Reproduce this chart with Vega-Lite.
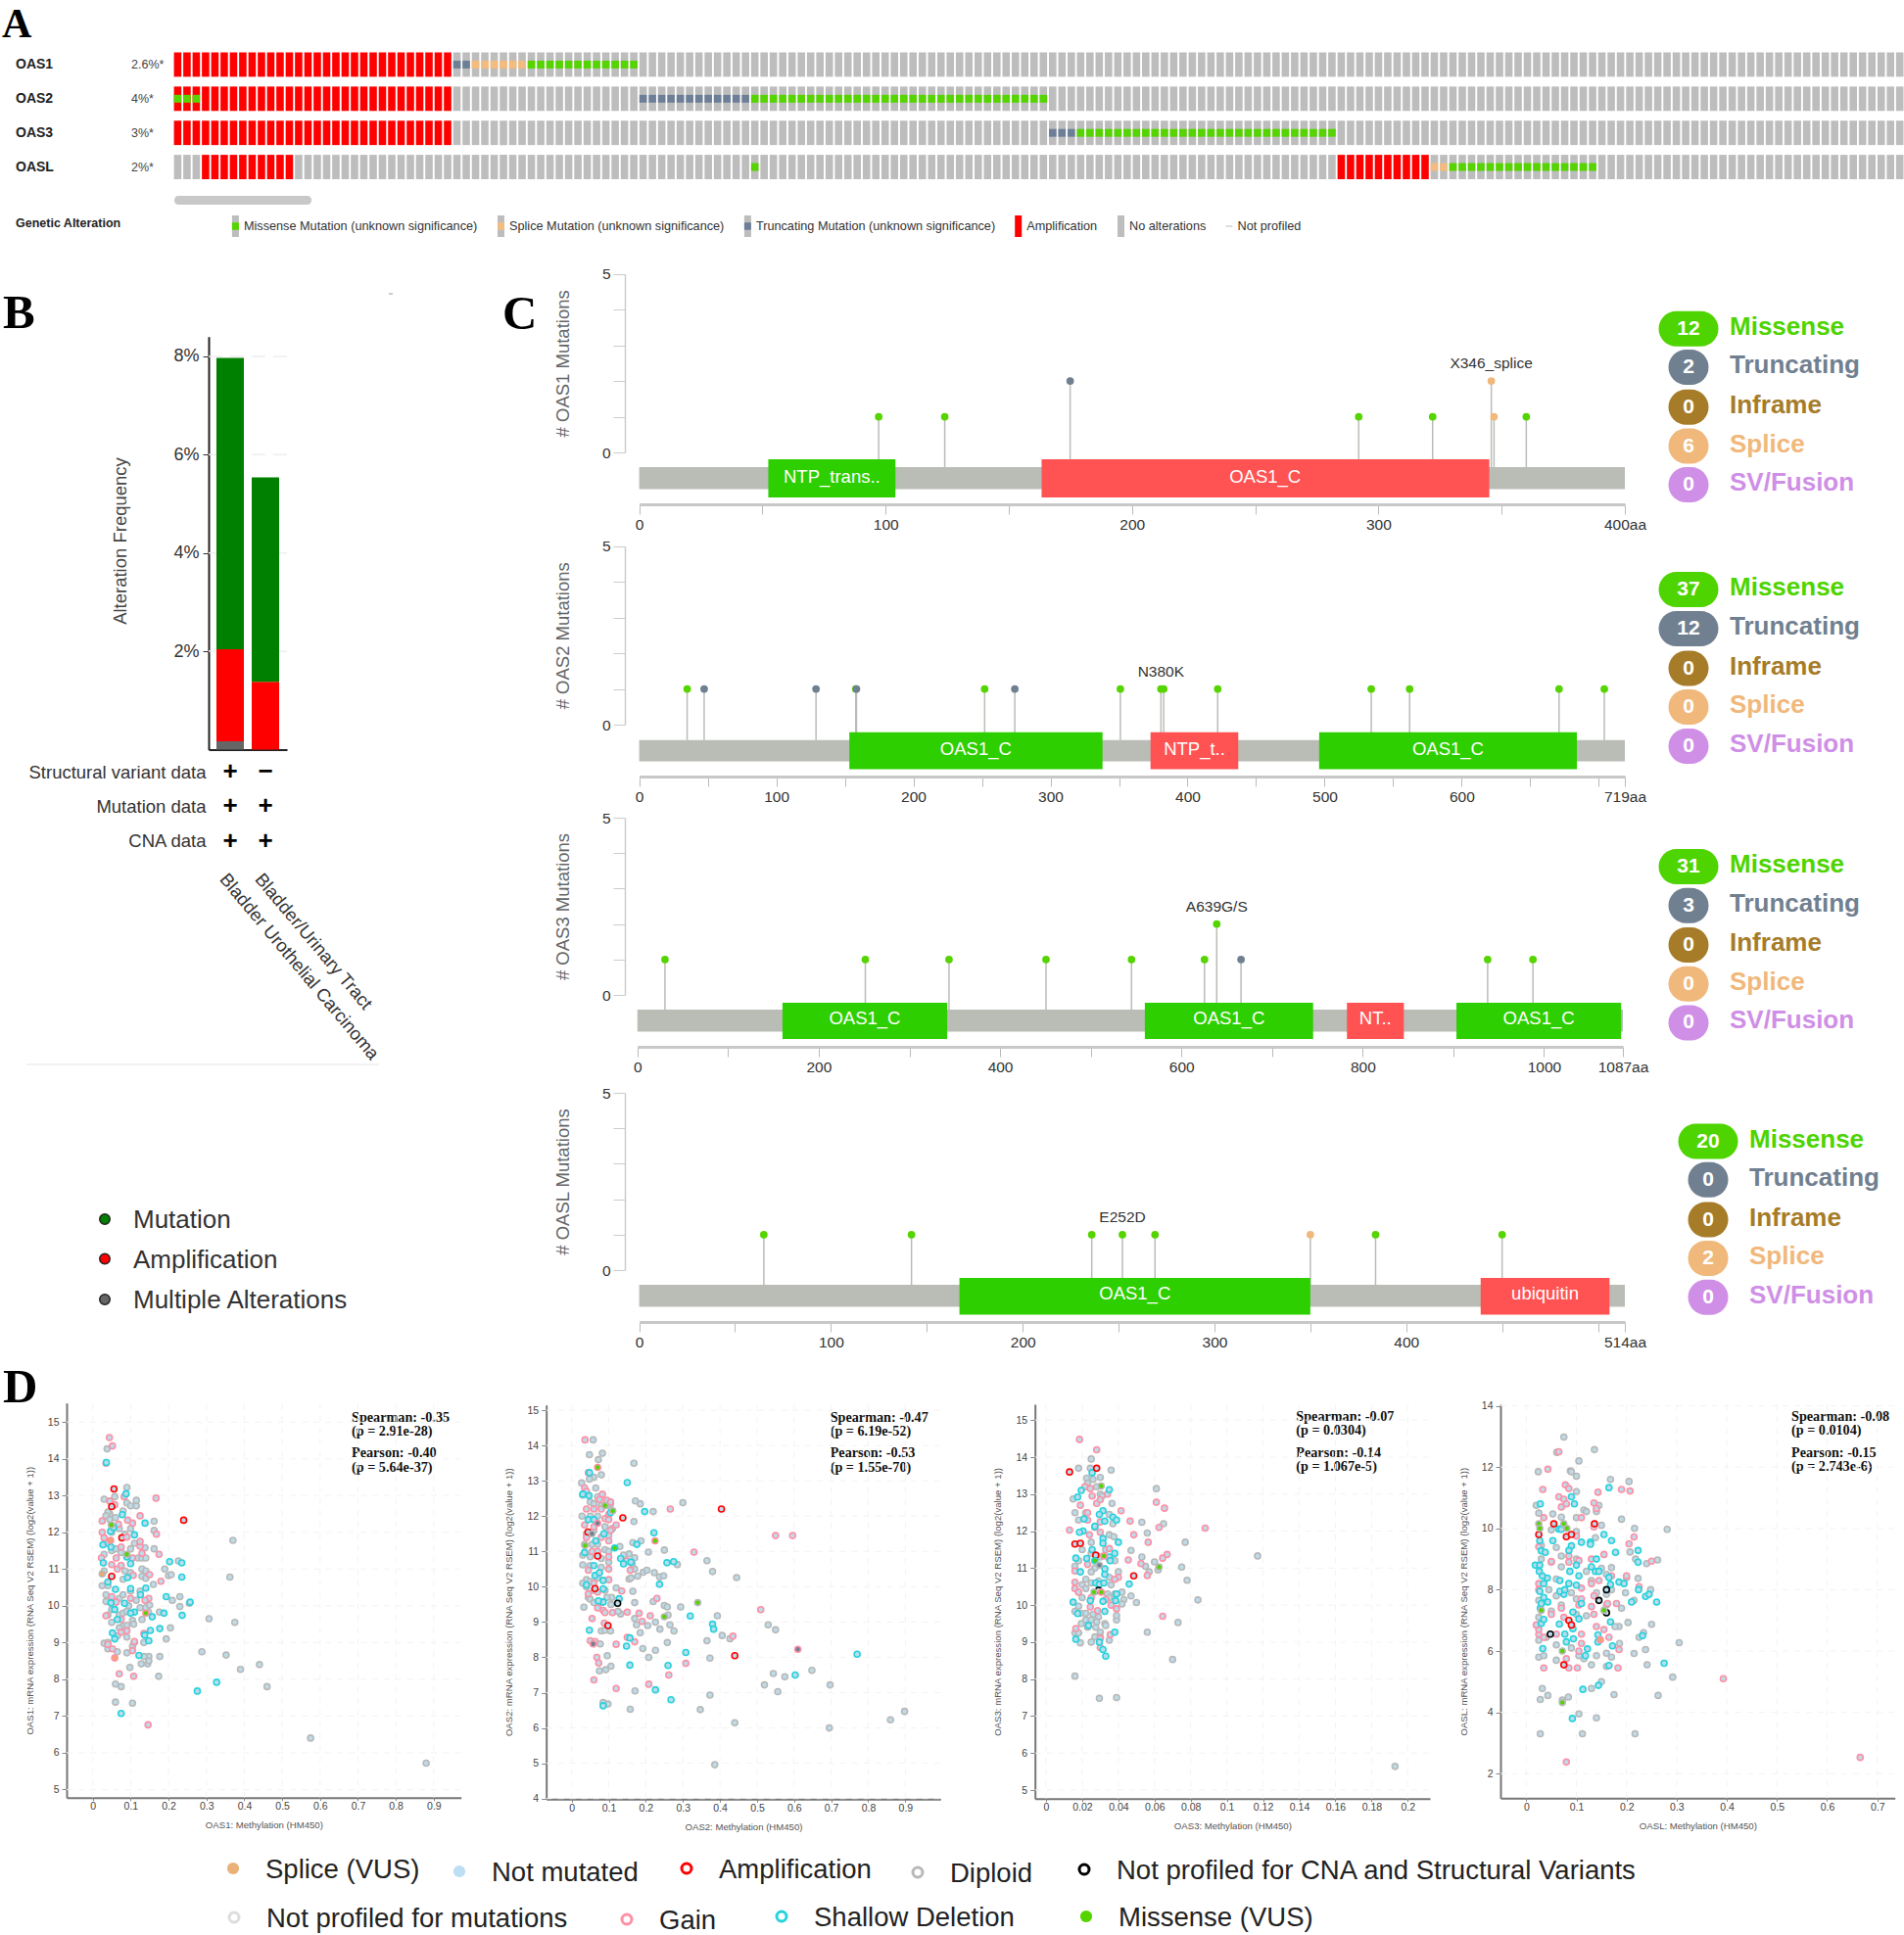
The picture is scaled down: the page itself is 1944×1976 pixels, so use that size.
{"$schema":"https://vega.github.io/schema/vega-lite/v6.json","width":1944,"height":1976,"padding":0,"autosize":{"type":"none"},"background":"white",
"config":{"view":{"stroke":null},"font":"Liberation Sans","axis":{"grid":false,"labelFlush":false,"labelOverlap":false,"titleFontWeight":"normal","labelLimit":500,"titleLimit":800},
"style":{"cy":{"tickSize":12,"domainColor":"#ccc","tickColor":"#ccc","domainWidth":1.5,"labelFontSize":15.5,"labelColor":"#333","labelPadding":3,"titleFontSize":18.5,"titleColor":"#666"},
"cx":{"tickSize":10,"domainColor":"#c8c8c8","tickColor":"#bbb","domainWidth":3,"labelFontSize":15.5,"labelColor":"#333","labelPadding":3},
"sx":{"tickSize":3,"domainColor":"#777","tickColor":"#888","domainWidth":2,"labelFontSize":10.5,"labelColor":"#444","labelPadding":1,"titleFontSize":9.6,"titleColor":"#555","titleY":23},
"sy":{"tickSize":5,"domainColor":"#777","tickColor":"#888","domainWidth":2,"labelFontSize":10.5,"labelColor":"#444","labelPadding":3,"titleFontSize":9.6,"titleColor":"#555"}}},
"resolve":{"scale":{"x":"independent","y":"independent","color":"independent"},"axis":{"x":"independent","y":"independent"}},
"datasets":{
"onco":[{"c":0,"OAS1":"a","OAS2":"am","OAS3":"a"},{"c":1,"OAS1":"a","OAS2":"am","OAS3":"a"},{"c":2,"OAS1":"a","OAS2":"am","OAS3":"a"},{"c":3,"OAS1":"a","OAS2":"a","OAS3":"a","OASL":"a"},{"c":4,"OAS1":"a","OAS2":"a","OAS3":"a","OASL":"a"},{"c":5,"OAS1":"a","OAS2":"a","OAS3":"a","OASL":"a"},{"c":6,"OAS1":"a","OAS2":"a","OAS3":"a","OASL":"a"},{"c":7,"OAS1":"a","OAS2":"a","OAS3":"a","OASL":"a"},{"c":8,"OAS1":"a","OAS2":"a","OAS3":"a","OASL":"a"},{"c":9,"OAS1":"a","OAS2":"a","OAS3":"a","OASL":"a"},{"c":10,"OAS1":"a","OAS2":"a","OAS3":"a","OASL":"a"},{"c":11,"OAS1":"a","OAS2":"a","OAS3":"a","OASL":"a"},{"c":12,"OAS1":"a","OAS2":"a","OAS3":"a","OASL":"a"},{"c":13,"OAS1":"a","OAS2":"a","OAS3":"a"},{"c":14,"OAS1":"a","OAS2":"a","OAS3":"a"},{"c":15,"OAS1":"a","OAS2":"a","OAS3":"a"},{"c":16,"OAS1":"a","OAS2":"a","OAS3":"a"},{"c":17,"OAS1":"a","OAS2":"a","OAS3":"a"},{"c":18,"OAS1":"a","OAS2":"a","OAS3":"a"},{"c":19,"OAS1":"a","OAS2":"a","OAS3":"a"},{"c":20,"OAS1":"a","OAS2":"a","OAS3":"a"},{"c":21,"OAS1":"a","OAS2":"a","OAS3":"a"},{"c":22,"OAS1":"a","OAS2":"a","OAS3":"a"},{"c":23,"OAS1":"a","OAS2":"a","OAS3":"a"},{"c":24,"OAS1":"a","OAS2":"a","OAS3":"a"},{"c":25,"OAS1":"a","OAS2":"a","OAS3":"a"},{"c":26,"OAS1":"a","OAS2":"a","OAS3":"a"},{"c":27,"OAS1":"a","OAS2":"a","OAS3":"a"},{"c":28,"OAS1":"a","OAS2":"a","OAS3":"a"},{"c":29,"OAS1":"a","OAS2":"a","OAS3":"a"},{"c":30,"OAS1":"t"},{"c":31,"OAS1":"t"},{"c":32,"OAS1":"s"},{"c":33,"OAS1":"s"},{"c":34,"OAS1":"s"},{"c":35,"OAS1":"s"},{"c":36,"OAS1":"s"},{"c":37,"OAS1":"s"},{"c":38,"OAS1":"m"},{"c":39,"OAS1":"m"},{"c":40,"OAS1":"m"},{"c":41,"OAS1":"m"},{"c":42,"OAS1":"m"},{"c":43,"OAS1":"m"},{"c":44,"OAS1":"m"},{"c":45,"OAS1":"m"},{"c":46,"OAS1":"m"},{"c":47,"OAS1":"m"},{"c":48,"OAS1":"m"},{"c":49,"OAS1":"m"},{"c":50,"OAS2":"t"},{"c":51,"OAS2":"t"},{"c":52,"OAS2":"t"},{"c":53,"OAS2":"t"},{"c":54,"OAS2":"t"},{"c":55,"OAS2":"t"},{"c":56,"OAS2":"t"},{"c":57,"OAS2":"t"},{"c":58,"OAS2":"t"},{"c":59,"OAS2":"t"},{"c":60,"OAS2":"t"},{"c":61,"OAS2":"t"},{"c":62,"OAS2":"m","OASL":"m"},{"c":63,"OAS2":"m"},{"c":64,"OAS2":"m"},{"c":65,"OAS2":"m"},{"c":66,"OAS2":"m"},{"c":67,"OAS2":"m"},{"c":68,"OAS2":"m"},{"c":69,"OAS2":"m"},{"c":70,"OAS2":"m"},{"c":71,"OAS2":"m"},{"c":72,"OAS2":"m"},{"c":73,"OAS2":"m"},{"c":74,"OAS2":"m"},{"c":75,"OAS2":"m"},{"c":76,"OAS2":"m"},{"c":77,"OAS2":"m"},{"c":78,"OAS2":"m"},{"c":79,"OAS2":"m"},{"c":80,"OAS2":"m"},{"c":81,"OAS2":"m"},{"c":82,"OAS2":"m"},{"c":83,"OAS2":"m"},{"c":84,"OAS2":"m"},{"c":85,"OAS2":"m"},{"c":86,"OAS2":"m"},{"c":87,"OAS2":"m"},{"c":88,"OAS2":"m"},{"c":89,"OAS2":"m"},{"c":90,"OAS2":"m"},{"c":91,"OAS2":"m"},{"c":92,"OAS2":"m"},{"c":93,"OAS2":"m"},{"c":94,"OAS3":"t"},{"c":95,"OAS3":"t"},{"c":96,"OAS3":"t"},{"c":97,"OAS3":"m"},{"c":98,"OAS3":"m"},{"c":99,"OAS3":"m"},{"c":100,"OAS3":"m"},{"c":101,"OAS3":"m"},{"c":102,"OAS3":"m"},{"c":103,"OAS3":"m"},{"c":104,"OAS3":"m"},{"c":105,"OAS3":"m"},{"c":106,"OAS3":"m"},{"c":107,"OAS3":"m"},{"c":108,"OAS3":"m"},{"c":109,"OAS3":"m"},{"c":110,"OAS3":"m"},{"c":111,"OAS3":"m"},{"c":112,"OAS3":"m"},{"c":113,"OAS3":"m"},{"c":114,"OAS3":"m"},{"c":115,"OAS3":"m"},{"c":116,"OAS3":"m"},{"c":117,"OAS3":"m"},{"c":118,"OAS3":"m"},{"c":119,"OAS3":"m"},{"c":120,"OAS3":"m"},{"c":121,"OAS3":"m"},{"c":122,"OAS3":"m"},{"c":123,"OAS3":"m"},{"c":124,"OAS3":"m"},{"c":125,"OASL":"a"},{"c":126,"OASL":"a"},{"c":127,"OASL":"a"},{"c":128,"OASL":"a"},{"c":129,"OASL":"a"},{"c":130,"OASL":"a"},{"c":131,"OASL":"a"},{"c":132,"OASL":"a"},{"c":133,"OASL":"a"},{"c":134,"OASL":"a"},{"c":135,"OASL":"s"},{"c":136,"OASL":"s"},{"c":137,"OASL":"m"},{"c":138,"OASL":"m"},{"c":139,"OASL":"m"},{"c":140,"OASL":"m"},{"c":141,"OASL":"m"},{"c":142,"OASL":"m"},{"c":143,"OASL":"m"},{"c":144,"OASL":"m"},{"c":145,"OASL":"m"},{"c":146,"OASL":"m"},{"c":147,"OASL":"m"},{"c":148,"OASL":"m"},{"c":149,"OASL":"m"},{"c":150,"OASL":"m"},{"c":151,"OASL":"m"},{"c":152,"OASL":"m"},{"c":153},{"c":154},{"c":155},{"c":156},{"c":157},{"c":158},{"c":159},{"c":160},{"c":161},{"c":162},{"c":163},{"c":164},{"c":165},{"c":166},{"c":167},{"c":168},{"c":169},{"c":170},{"c":171},{"c":172},{"c":173},{"c":174},{"c":175},{"c":176},{"c":177},{"c":178},{"c":179},{"c":180},{"c":181},{"c":182},{"c":183},{"c":184},{"c":185}],
"m1":[{"aa":97.2,"n":1,"k":"m"},{"aa":124,"n":1,"k":"m"},{"aa":174.9,"n":2,"k":"t"},{"aa":292,"n":1,"k":"m"},{"aa":322,"n":1,"k":"m"},{"aa":345.8,"n":2,"k":"s","lab":"X346_splice"},{"aa":346.9,"n":1,"k":"s"},{"aa":360,"n":1,"k":"m"}],
"m2":[{"aa":35,"n":1,"k":"m"},{"aa":47.4,"n":1,"k":"t"},{"aa":129,"n":1,"k":"t"},{"aa":158,"n":1,"k":"m"},{"aa":158.5,"n":1,"k":"t"},{"aa":252,"n":1,"k":"m"},{"aa":274,"n":1,"k":"t"},{"aa":351,"n":1,"k":"m"},{"aa":380.6,"n":1,"k":"m","lab":"N380K"},{"aa":382.6,"n":1,"k":"m"},{"aa":422,"n":1,"k":"m"},{"aa":534,"n":1,"k":"m"},{"aa":562,"n":1,"k":"m"},{"aa":671,"n":1,"k":"m"},{"aa":704,"n":1,"k":"m"}],
"m3":[{"aa":30.4,"n":1,"k":"m"},{"aa":251.4,"n":1,"k":"m"},{"aa":343.7,"n":1,"k":"m"},{"aa":450.7,"n":1,"k":"m"},{"aa":545,"n":1,"k":"m"},{"aa":625.5,"n":1,"k":"m"},{"aa":639,"n":2,"k":"m","lab":"A639G/S"},{"aa":665.8,"n":1,"k":"t"},{"aa":937.8,"n":1,"k":"m"},{"aa":987.8,"n":1,"k":"m"}],
"m4":[{"aa":65,"n":1,"k":"m"},{"aa":142,"n":1,"k":"m"},{"aa":236,"n":1,"k":"m"},{"aa":252,"n":1,"k":"m","lab":"E252D"},{"aa":269,"n":1,"k":"m"},{"aa":350,"n":1,"k":"s"},{"aa":384,"n":1,"k":"m"},{"aa":450,"n":1,"k":"m"}],
"s1":[{"x":0.88,"y":5.72,"c":"g"},{"x":0.575,"y":6.4,"c":"g"},{"x":0.46,"y":7.8,"c":"g"},{"x":0.44,"y":8.4,"c":"g"},{"x":0.39,"y":8.27,"c":"g"},{"x":0.352,"y":8.66,"c":"g"},{"x":0.288,"y":8.75,"c":"g"},{"x":0.37,"y":11.78,"c":"g"},{"x":0.362,"y":10.78,"c":"g"},{"x":0.375,"y":9.55,"c":"g"},{"x":0.307,"y":9.65,"c":"g"},{"x":0.255,"y":10.07,"c":"g"},{"x":0.23,"y":9.98,"c":"g"},{"x":0.23,"y":10.25,"c":"g"},{"x":0.226,"y":11.22,"c":"g"},{"x":0.205,"y":9.4,"c":"g"},{"x":0.194,"y":9.1,"c":"g"},{"x":0.177,"y":8.62,"c":"g"},{"x":0.174,"y":8.08,"c":"g"},{"x":0.21,"y":10.15,"c":"g"},{"x":0.2,"y":10.82,"c":"g"},{"x":0.19,"y":11.0,"c":"g"},{"x":0.207,"y":10.85,"c":"g"},{"x":0.162,"y":11.55,"c":"g"},{"x":0.162,"y":12.3,"c":"g"},{"x":0.162,"y":12.05,"c":"g"},{"x":0.16,"y":10.58,"c":"g"},{"x":0.09,"y":13.22,"c":"g"},{"x":0.038,"y":14.27,"c":"g"},{"x":0.105,"y":7.35,"c":"g"},{"x":0.06,"y":7.38,"c":"g"},{"x":0.06,"y":7.87,"c":"g"},{"x":0.075,"y":7.8,"c":"g"},{"x":0.098,"y":8.32,"c":"g"},{"x":0.128,"y":8.42,"c":"g"},{"x":0.145,"y":8.42,"c":"g"},{"x":0.148,"y":8.62,"c":"g"},{"x":0.135,"y":8.62,"c":"g"},{"x":0.148,"y":8.5,"c":"g"},{"x":0.09,"y":8.72,"c":"g"},{"x":0.065,"y":8.75,"c":"g"},{"x":0.04,"y":8.83,"c":"g"},{"x":0.03,"y":8.98,"c":"g"},{"x":0.04,"y":9.0,"c":"g"},{"x":0.065,"y":9.18,"c":"g"},{"x":0.09,"y":9.15,"c":"g"},{"x":0.105,"y":8.9,"c":"g"},{"x":0.11,"y":9.0,"c":"g"},{"x":0.135,"y":9.0,"c":"g"},{"x":0.105,"y":9.6,"c":"g"},{"x":0.108,"y":9.5,"c":"g"},{"x":0.13,"y":9.63,"c":"g"},{"x":0.176,"y":9.83,"c":"g"},{"x":0.147,"y":9.83,"c":"g"},{"x":0.03,"y":12.9,"c":"g"},{"x":0.058,"y":12.97,"c":"g"},{"x":0.045,"y":12.5,"c":"g"},{"x":0.04,"y":12.55,"c":"g"},{"x":0.08,"y":12.58,"c":"g"},{"x":0.09,"y":12.8,"c":"g"},{"x":0.1,"y":12.72,"c":"g"},{"x":0.115,"y":12.72,"c":"g"},{"x":0.115,"y":12.87,"c":"g"},{"x":0.035,"y":12.45,"c":"g"},{"x":0.045,"y":12.35,"c":"g"},{"x":0.06,"y":12.4,"c":"g"},{"x":0.05,"y":12.0,"c":"g"},{"x":0.07,"y":12.1,"c":"g"},{"x":0.1,"y":12.1,"c":"g"},{"x":0.085,"y":11.95,"c":"g"},{"x":0.04,"y":11.7,"c":"g"},{"x":0.05,"y":11.5,"c":"g"},{"x":0.03,"y":11.4,"c":"g"},{"x":0.06,"y":11.55,"c":"g"},{"x":0.075,"y":11.45,"c":"g"},{"x":0.1,"y":11.55,"c":"g"},{"x":0.11,"y":11.7,"c":"g"},{"x":0.138,"y":11.58,"c":"g"},{"x":0.12,"y":11.3,"c":"g"},{"x":0.13,"y":11.3,"c":"g"},{"x":0.14,"y":11.3,"c":"g"},{"x":0.13,"y":11.0,"c":"g"},{"x":0.14,"y":10.95,"c":"g"},{"x":0.13,"y":10.8,"c":"g"},{"x":0.14,"y":10.75,"c":"g"},{"x":0.085,"y":10.95,"c":"g"},{"x":0.1,"y":10.9,"c":"g"},{"x":0.03,"y":10.95,"c":"g"},{"x":0.025,"y":10.55,"c":"g"},{"x":0.04,"y":10.55,"c":"g"},{"x":0.08,"y":10.72,"c":"g"},{"x":0.1,"y":10.4,"c":"g"},{"x":0.125,"y":10.4,"c":"g"},{"x":0.035,"y":10.3,"c":"g"},{"x":0.035,"y":10.12,"c":"g"},{"x":0.07,"y":10.2,"c":"g"},{"x":0.08,"y":10.3,"c":"g"},{"x":0.095,"y":10.0,"c":"g"},{"x":0.115,"y":10.15,"c":"g"},{"x":0.125,"y":9.95,"c":"g"},{"x":0.14,"y":9.95,"c":"g"},{"x":0.15,"y":10.02,"c":"g"},{"x":0.05,"y":9.9,"c":"g"},{"x":0.04,"y":9.75,"c":"g"},{"x":0.05,"y":9.55,"c":"g"},{"x":0.07,"y":9.75,"c":"g"},{"x":0.08,"y":9.8,"c":"g"},{"x":0.09,"y":9.85,"c":"g"},{"x":0.08,"y":9.45,"c":"g"},{"x":0.09,"y":9.47,"c":"g"},{"x":0.07,"y":9.4,"c":"g"},{"x":0.146,"y":6.76,"c":"p"},{"x":0.108,"y":8.08,"c":"p"},{"x":0.07,"y":8.15,"c":"p"},{"x":0.105,"y":8.78,"c":"p"},{"x":0.04,"y":8.95,"c":"p"},{"x":0.052,"y":8.83,"c":"p"},{"x":0.11,"y":9.03,"c":"p"},{"x":0.09,"y":9.32,"c":"p"},{"x":0.075,"y":9.28,"c":"p"},{"x":0.135,"y":9.25,"c":"p"},{"x":0.075,"y":9.63,"c":"p"},{"x":0.035,"y":9.73,"c":"p"},{"x":0.148,"y":10.2,"c":"p"},{"x":0.1,"y":10.2,"c":"p"},{"x":0.05,"y":10.25,"c":"p"},{"x":0.138,"y":10.15,"c":"p"},{"x":0.062,"y":10.1,"c":"p"},{"x":0.18,"y":10.67,"c":"p"},{"x":0.15,"y":10.85,"c":"p"},{"x":0.065,"y":11.0,"c":"p"},{"x":0.107,"y":10.83,"c":"p"},{"x":0.075,"y":11.1,"c":"p"},{"x":0.05,"y":11.12,"c":"p"},{"x":0.023,"y":11.3,"c":"p"},{"x":0.062,"y":11.3,"c":"p"},{"x":0.105,"y":11.3,"c":"p"},{"x":0.175,"y":11.4,"c":"p"},{"x":0.13,"y":11.43,"c":"p"},{"x":0.125,"y":11.62,"c":"p"},{"x":0.125,"y":11.75,"c":"p"},{"x":0.075,"y":11.6,"c":"p"},{"x":0.168,"y":11.95,"c":"p"},{"x":0.03,"y":11.85,"c":"p"},{"x":0.025,"y":12.0,"c":"p"},{"x":0.105,"y":12.25,"c":"p"},{"x":0.092,"y":12.33,"c":"p"},{"x":0.068,"y":12.22,"c":"p"},{"x":0.025,"y":12.31,"c":"p"},{"x":0.125,"y":12.45,"c":"p"},{"x":0.167,"y":12.93,"c":"p"},{"x":0.083,"y":12.97,"c":"p"},{"x":0.045,"y":12.85,"c":"p"},{"x":0.058,"y":12.75,"c":"p"},{"x":0.044,"y":14.58,"c":"p"},{"x":0.052,"y":14.35,"c":"p"},{"x":0.035,"y":13.88,"c":"p"},{"x":0.075,"y":7.07,"c":"s"},{"x":0.276,"y":7.68,"c":"s"},{"x":0.327,"y":7.92,"c":"s"},{"x":0.122,"y":8.65,"c":"s"},{"x":0.148,"y":9.05,"c":"s"},{"x":0.137,"y":9.2,"c":"s"},{"x":0.152,"y":9.33,"c":"s"},{"x":0.177,"y":9.38,"c":"s"},{"x":0.052,"y":9.26,"c":"s"},{"x":0.058,"y":9.1,"c":"s"},{"x":0.157,"y":9.7,"c":"s"},{"x":0.236,"y":9.74,"c":"s"},{"x":0.188,"y":9.8,"c":"s"},{"x":0.11,"y":9.83,"c":"s"},{"x":0.1,"y":9.8,"c":"s"},{"x":0.065,"y":9.63,"c":"s"},{"x":0.058,"y":9.9,"c":"s"},{"x":0.048,"y":10.08,"c":"s"},{"x":0.084,"y":10.07,"c":"s"},{"x":0.257,"y":10.1,"c":"s"},{"x":0.194,"y":10.25,"c":"s"},{"x":0.126,"y":10.3,"c":"s"},{"x":0.14,"y":10.48,"c":"s"},{"x":0.06,"y":10.45,"c":"s"},{"x":0.1,"y":10.47,"c":"s"},{"x":0.235,"y":10.78,"c":"s"},{"x":0.235,"y":11.17,"c":"s"},{"x":0.203,"y":11.2,"c":"s"},{"x":0.1,"y":11.15,"c":"s"},{"x":0.028,"y":11.17,"c":"s"},{"x":0.09,"y":11.33,"c":"s"},{"x":0.04,"y":10.65,"c":"s"},{"x":0.092,"y":10.77,"c":"s"},{"x":0.138,"y":12.25,"c":"s"},{"x":0.078,"y":12.48,"c":"s"},{"x":0.088,"y":13.05,"c":"s"},{"x":0.036,"y":13.9,"c":"s"},{"x":0.047,"y":12.03,"c":"s"},{"x":0.055,"y":12.13,"c":"s"},{"x":0.11,"y":11.93,"c":"s"},{"x":0.048,"y":11.6,"c":"s"},{"x":0.027,"y":11.66,"c":"s"},{"x":0.056,"y":13.18,"c":"r"},{"x":0.05,"y":12.7,"c":"r"},{"x":0.24,"y":12.33,"c":"r"},{"x":0.077,"y":11.85,"c":"r"},{"x":0.09,"y":11.87,"c":"p"},{"x":0.05,"y":10.8,"c":"r"},{"x":0.049,"y":12.2,"c":"g","m":"m"},{"x":0.09,"y":11.4,"c":"g","m":"m"},{"x":0.14,"y":9.8,"c":"p","m":"m"},{"x":0.047,"y":11.78,"c":"p","m":"s"},{"x":0.025,"y":10.87,"c":"g","m":"s"},{"x":0.058,"y":8.58,"c":"p","m":"s"}],
"s2":[{"x":0.898,"y":6.47,"c":"g"},{"x":0.86,"y":6.23,"c":"g"},{"x":0.695,"y":6.0,"c":"g"},{"x":0.697,"y":7.22,"c":"g"},{"x":0.648,"y":7.63,"c":"g"},{"x":0.575,"y":7.45,"c":"g"},{"x":0.556,"y":7.03,"c":"g"},{"x":0.544,"y":7.54,"c":"g"},{"x":0.52,"y":7.22,"c":"g"},{"x":0.53,"y":8.92,"c":"g"},{"x":0.55,"y":8.78,"c":"g"},{"x":0.427,"y":8.53,"c":"g"},{"x":0.406,"y":8.62,"c":"g"},{"x":0.393,"y":9.18,"c":"g"},{"x":0.44,"y":6.15,"c":"g"},{"x":0.386,"y":4.96,"c":"g"},{"x":0.373,"y":6.93,"c":"g"},{"x":0.347,"y":6.52,"c":"g"},{"x":0.158,"y":6.53,"c":"g"},{"x":0.171,"y":7.05,"c":"g"},{"x":0.098,"y":6.68,"c":"g"},{"x":0.085,"y":6.72,"c":"g"},{"x":0.106,"y":7.75,"c":"g"},{"x":0.075,"y":7.62,"c":"g"},{"x":0.092,"y":7.65,"c":"g"},{"x":0.096,"y":8.05,"c":"g"},{"x":0.208,"y":8.0,"c":"g"},{"x":0.192,"y":8.25,"c":"g"},{"x":0.226,"y":8.2,"c":"g"},{"x":0.258,"y":8.42,"c":"g"},{"x":0.373,"y":7.98,"c":"g"},{"x":0.365,"y":8.47,"c":"g"},{"x":0.276,"y":8.75,"c":"g"},{"x":0.238,"y":8.8,"c":"g"},{"x":0.185,"y":8.7,"c":"g"},{"x":0.175,"y":8.92,"c":"g"},{"x":0.205,"y":8.9,"c":"g"},{"x":0.226,"y":9.0,"c":"g"},{"x":0.265,"y":8.92,"c":"g"},{"x":0.17,"y":9.1,"c":"g"},{"x":0.26,"y":9.2,"c":"g"},{"x":0.294,"y":9.43,"c":"g"},{"x":0.25,"y":9.47,"c":"g"},{"x":0.258,"y":9.43,"c":"g"},{"x":0.22,"y":9.58,"c":"g"},{"x":0.17,"y":9.55,"c":"g"},{"x":0.165,"y":9.87,"c":"g"},{"x":0.12,"y":9.97,"c":"g"},{"x":0.108,"y":9.7,"c":"g"},{"x":0.095,"y":9.7,"c":"g"},{"x":0.132,"y":9.23,"c":"g"},{"x":0.125,"y":9.3,"c":"g"},{"x":0.106,"y":9.5,"c":"g"},{"x":0.033,"y":9.42,"c":"g"},{"x":0.08,"y":8.75,"c":"g"},{"x":0.09,"y":8.77,"c":"g"},{"x":0.105,"y":8.75,"c":"g"},{"x":0.077,"y":8.38,"c":"g"},{"x":0.445,"y":10.26,"c":"g"},{"x":0.38,"y":10.43,"c":"g"},{"x":0.365,"y":10.74,"c":"g"},{"x":0.285,"y":10.63,"c":"g"},{"x":0.25,"y":11.04,"c":"g"},{"x":0.207,"y":10.98,"c":"g"},{"x":0.17,"y":10.82,"c":"g"},{"x":0.163,"y":10.65,"c":"g"},{"x":0.17,"y":10.5,"c":"g"},{"x":0.155,"y":10.22,"c":"g"},{"x":0.16,"y":10.25,"c":"g"},{"x":0.178,"y":10.3,"c":"g"},{"x":0.193,"y":10.41,"c":"g"},{"x":0.203,"y":10.47,"c":"g"},{"x":0.223,"y":10.4,"c":"g"},{"x":0.237,"y":10.28,"c":"g"},{"x":0.248,"y":10.31,"c":"g"},{"x":0.13,"y":11.14,"c":"g"},{"x":0.155,"y":10.93,"c":"g"},{"x":0.165,"y":11.25,"c":"g"},{"x":0.187,"y":11.3,"c":"g"},{"x":0.14,"y":10.9,"c":"g"},{"x":0.172,"y":12.43,"c":"g"},{"x":0.185,"y":12.35,"c":"g"},{"x":0.22,"y":12.13,"c":"g"},{"x":0.3,"y":12.38,"c":"g"},{"x":0.168,"y":11.85,"c":"g"},{"x":0.168,"y":13.5,"c":"g"},{"x":0.083,"y":13.78,"c":"g"},{"x":0.072,"y":13.6,"c":"g"},{"x":0.048,"y":13.74,"c":"g"},{"x":0.058,"y":14.16,"c":"g"},{"x":0.08,"y":13.17,"c":"g"},{"x":0.06,"y":13.1,"c":"g"},{"x":0.048,"y":13.05,"c":"g"},{"x":0.027,"y":12.94,"c":"g"},{"x":0.065,"y":12.8,"c":"g"},{"x":0.03,"y":12.6,"c":"g"},{"x":0.07,"y":12.55,"c":"g"},{"x":0.05,"y":12.4,"c":"g"},{"x":0.06,"y":12.35,"c":"g"},{"x":0.08,"y":12.3,"c":"g"},{"x":0.1,"y":12.3,"c":"g"},{"x":0.105,"y":12.35,"c":"g"},{"x":0.028,"y":12.0,"c":"g"},{"x":0.05,"y":12.0,"c":"g"},{"x":0.07,"y":12.0,"c":"g"},{"x":0.04,"y":11.5,"c":"g"},{"x":0.06,"y":11.6,"c":"g"},{"x":0.09,"y":11.7,"c":"g"},{"x":0.11,"y":11.65,"c":"g"},{"x":0.1,"y":11.45,"c":"g"},{"x":0.035,"y":11.2,"c":"g"},{"x":0.055,"y":11.2,"c":"g"},{"x":0.07,"y":11.2,"c":"g"},{"x":0.09,"y":11.05,"c":"g"},{"x":0.1,"y":11.0,"c":"g"},{"x":0.03,"y":10.9,"c":"g"},{"x":0.05,"y":10.85,"c":"g"},{"x":0.08,"y":10.8,"c":"g"},{"x":0.1,"y":10.7,"c":"g"},{"x":0.03,"y":10.62,"c":"g"},{"x":0.05,"y":10.6,"c":"g"},{"x":0.08,"y":10.55,"c":"g"},{"x":0.04,"y":10.2,"c":"g"},{"x":0.03,"y":10.1,"c":"g"},{"x":0.05,"y":10.15,"c":"g"},{"x":0.07,"y":10.25,"c":"g"},{"x":0.04,"y":10.0,"c":"g"},{"x":0.06,"y":9.9,"c":"g"},{"x":0.09,"y":9.9,"c":"g"},{"x":0.045,"y":9.7,"c":"g"},{"x":0.05,"y":9.65,"c":"g"},{"x":0.08,"y":9.55,"c":"g"},{"x":0.06,"y":9.55,"c":"g"},{"x":0.036,"y":14.16,"c":"p"},{"x":0.045,"y":13.23,"c":"p"},{"x":0.035,"y":12.8,"c":"p"},{"x":0.04,"y":12.7,"c":"p"},{"x":0.083,"y":12.62,"c":"p"},{"x":0.095,"y":12.45,"c":"p"},{"x":0.075,"y":12.47,"c":"p"},{"x":0.105,"y":12.4,"c":"p"},{"x":0.04,"y":12.2,"c":"p"},{"x":0.06,"y":12.2,"c":"p"},{"x":0.08,"y":12.2,"c":"p"},{"x":0.1,"y":12.05,"c":"p"},{"x":0.09,"y":11.93,"c":"p"},{"x":0.1,"y":11.9,"c":"p"},{"x":0.12,"y":11.75,"c":"p"},{"x":0.035,"y":11.75,"c":"p"},{"x":0.06,"y":11.7,"c":"p"},{"x":0.105,"y":11.6,"c":"p"},{"x":0.04,"y":11.4,"c":"p"},{"x":0.08,"y":11.4,"c":"p"},{"x":0.1,"y":11.3,"c":"p"},{"x":0.055,"y":11.0,"c":"p"},{"x":0.07,"y":11.0,"c":"p"},{"x":0.1,"y":10.85,"c":"p"},{"x":0.1,"y":10.5,"c":"p"},{"x":0.045,"y":10.47,"c":"p"},{"x":0.1,"y":10.2,"c":"p"},{"x":0.06,"y":10.1,"c":"p"},{"x":0.135,"y":9.88,"c":"p"},{"x":0.07,"y":9.85,"c":"p"},{"x":0.045,"y":9.8,"c":"p"},{"x":0.07,"y":9.4,"c":"p"},{"x":0.085,"y":9.33,"c":"p"},{"x":0.11,"y":9.27,"c":"p"},{"x":0.09,"y":9.27,"c":"p"},{"x":0.055,"y":9.1,"c":"p"},{"x":0.15,"y":9.28,"c":"p"},{"x":0.182,"y":9.25,"c":"p"},{"x":0.19,"y":9.02,"c":"p"},{"x":0.212,"y":9.18,"c":"p"},{"x":0.23,"y":9.67,"c":"p"},{"x":0.088,"y":8.97,"c":"p"},{"x":0.05,"y":8.47,"c":"p"},{"x":0.063,"y":8.45,"c":"p"},{"x":0.12,"y":8.37,"c":"p"},{"x":0.15,"y":8.57,"c":"p"},{"x":0.17,"y":8.44,"c":"p"},{"x":0.068,"y":8.0,"c":"p"},{"x":0.073,"y":7.84,"c":"p"},{"x":0.06,"y":7.36,"c":"p"},{"x":0.12,"y":7.12,"c":"p"},{"x":0.208,"y":7.24,"c":"p"},{"x":0.262,"y":7.5,"c":"p"},{"x":0.308,"y":7.83,"c":"p"},{"x":0.33,"y":10.98,"c":"p"},{"x":0.266,"y":12.2,"c":"p"},{"x":0.158,"y":10.47,"c":"p"},{"x":0.148,"y":10.73,"c":"p"},{"x":0.435,"y":8.6,"c":"p"},{"x":0.51,"y":9.35,"c":"p"},{"x":0.55,"y":11.45,"c":"p"},{"x":0.596,"y":11.45,"c":"p"},{"x":0.085,"y":6.63,"c":"s"},{"x":0.226,"y":7.08,"c":"s"},{"x":0.268,"y":6.8,"c":"s"},{"x":0.157,"y":7.78,"c":"s"},{"x":0.26,"y":7.77,"c":"s"},{"x":0.148,"y":8.32,"c":"s"},{"x":0.157,"y":8.55,"c":"s"},{"x":0.308,"y":8.14,"c":"s"},{"x":0.603,"y":7.5,"c":"s"},{"x":0.77,"y":8.09,"c":"s"},{"x":0.048,"y":8.77,"c":"s"},{"x":0.38,"y":8.94,"c":"s"},{"x":0.383,"y":8.8,"c":"s"},{"x":0.32,"y":9.17,"c":"s"},{"x":0.128,"y":9.66,"c":"s"},{"x":0.085,"y":9.57,"c":"s"},{"x":0.072,"y":9.6,"c":"s"},{"x":0.237,"y":10.07,"c":"s"},{"x":0.085,"y":9.94,"c":"s"},{"x":0.04,"y":10.05,"c":"s"},{"x":0.085,"y":10.18,"c":"s"},{"x":0.063,"y":10.32,"c":"s"},{"x":0.075,"y":10.4,"c":"s"},{"x":0.06,"y":10.6,"c":"s"},{"x":0.14,"y":10.65,"c":"s"},{"x":0.16,"y":10.7,"c":"s"},{"x":0.132,"y":10.8,"c":"s"},{"x":0.257,"y":10.68,"c":"s"},{"x":0.275,"y":10.71,"c":"s"},{"x":0.176,"y":11.2,"c":"s"},{"x":0.222,"y":11.53,"c":"s"},{"x":0.087,"y":11.5,"c":"s"},{"x":0.197,"y":12.13,"c":"s"},{"x":0.15,"y":12.95,"c":"s"},{"x":0.048,"y":13.23,"c":"s"},{"x":0.045,"y":11.9,"c":"s"},{"x":0.03,"y":12.62,"c":"s"},{"x":0.047,"y":12.58,"c":"s"},{"x":0.105,"y":12.1,"c":"s"},{"x":0.06,"y":11.9,"c":"s"},{"x":0.035,"y":10.97,"c":"s"},{"x":0.065,"y":11.3,"c":"s"},{"x":0.404,"y":12.2,"c":"r"},{"x":0.138,"y":11.95,"c":"r"},{"x":0.044,"y":11.55,"c":"r"},{"x":0.07,"y":10.87,"c":"r"},{"x":0.063,"y":9.95,"c":"r"},{"x":0.098,"y":8.9,"c":"r"},{"x":0.44,"y":8.05,"c":"r"},{"x":0.124,"y":9.53,"c":"k"},{"x":0.07,"y":13.38,"c":"p","m":"m"},{"x":0.09,"y":12.3,"c":"g","m":"m"},{"x":0.111,"y":12.15,"c":"g","m":"m"},{"x":0.225,"y":11.3,"c":"p","m":"m"},{"x":0.116,"y":11.1,"c":"s","m":"m"},{"x":0.036,"y":11.17,"c":"g","m":"m"},{"x":0.34,"y":9.55,"c":"g","m":"m"},{"x":0.25,"y":9.15,"c":"g","m":"m"},{"x":0.07,"y":11.8,"c":"p","m":"t"},{"x":0.055,"y":11.5,"c":"g","m":"t"},{"x":0.058,"y":8.38,"c":"p","m":"t"},{"x":0.61,"y":8.23,"c":"p","m":"t"}],
"s3":[{"x":0.193,"y":5.64,"c":"g"},{"x":0.117,"y":11.33,"c":"g"},{"x":0.084,"y":10.14,"c":"g"},{"x":0.078,"y":10.67,"c":"g"},{"x":0.075,"y":11.03,"c":"g"},{"x":0.077,"y":11.7,"c":"g"},{"x":0.07,"y":8.53,"c":"g"},{"x":0.073,"y":9.53,"c":"g"},{"x":0.056,"y":9.27,"c":"g"},{"x":0.039,"y":7.5,"c":"g"},{"x":0.0295,"y":7.48,"c":"g"},{"x":0.016,"y":8.08,"c":"g"},{"x":0.061,"y":13.15,"c":"g"},{"x":0.056,"y":11.95,"c":"g"},{"x":0.053,"y":12.24,"c":"g"},{"x":0.065,"y":12.2,"c":"g"},{"x":0.047,"y":11.48,"c":"g"},{"x":0.053,"y":11.3,"c":"g"},{"x":0.06,"y":11.17,"c":"g"},{"x":0.055,"y":11.05,"c":"g"},{"x":0.057,"y":10.9,"c":"g"},{"x":0.062,"y":10.95,"c":"g"},{"x":0.05,"y":10.07,"c":"g"},{"x":0.047,"y":10.25,"c":"g"},{"x":0.043,"y":10.15,"c":"g"},{"x":0.042,"y":10.03,"c":"g"},{"x":0.042,"y":10.35,"c":"g"},{"x":0.039,"y":10.3,"c":"g"},{"x":0.039,"y":9.6,"c":"g"},{"x":0.039,"y":9.72,"c":"g"},{"x":0.036,"y":13.65,"c":"g"},{"x":0.025,"y":13.95,"c":"g"},{"x":0.0245,"y":13.7,"c":"g"},{"x":0.018,"y":13.7,"c":"g"},{"x":0.0225,"y":13.43,"c":"g"},{"x":0.023,"y":13.3,"c":"g"},{"x":0.026,"y":13.4,"c":"g"},{"x":0.03,"y":13.45,"c":"g"},{"x":0.015,"y":12.87,"c":"g"},{"x":0.03,"y":13.0,"c":"g"},{"x":0.028,"y":13.2,"c":"g"},{"x":0.031,"y":12.95,"c":"g"},{"x":0.0365,"y":12.75,"c":"g"},{"x":0.016,"y":12.5,"c":"g"},{"x":0.035,"y":12.45,"c":"g"},{"x":0.037,"y":12.2,"c":"g"},{"x":0.035,"y":11.9,"c":"g"},{"x":0.0375,"y":11.85,"c":"g"},{"x":0.018,"y":12.3,"c":"g"},{"x":0.022,"y":12.5,"c":"g"},{"x":0.027,"y":12.1,"c":"g"},{"x":0.025,"y":11.7,"c":"g"},{"x":0.025,"y":11.4,"c":"g"},{"x":0.03,"y":11.3,"c":"g"},{"x":0.033,"y":11.5,"c":"g"},{"x":0.035,"y":11.25,"c":"g"},{"x":0.02,"y":11.5,"c":"g"},{"x":0.018,"y":11.2,"c":"g"},{"x":0.027,"y":11.0,"c":"g"},{"x":0.016,"y":11.05,"c":"g"},{"x":0.025,"y":10.9,"c":"g"},{"x":0.038,"y":11.2,"c":"g"},{"x":0.04,"y":10.9,"c":"g"},{"x":0.035,"y":10.75,"c":"g"},{"x":0.036,"y":10.55,"c":"g"},{"x":0.022,"y":10.7,"c":"g"},{"x":0.02,"y":10.55,"c":"g"},{"x":0.022,"y":10.45,"c":"g"},{"x":0.025,"y":10.6,"c":"g"},{"x":0.029,"y":10.65,"c":"g"},{"x":0.038,"y":10.3,"c":"g"},{"x":0.034,"y":10.3,"c":"g"},{"x":0.035,"y":10.2,"c":"g"},{"x":0.02,"y":10.2,"c":"g"},{"x":0.016,"y":9.83,"c":"g"},{"x":0.018,"y":9.97,"c":"g"},{"x":0.019,"y":9.78,"c":"g"},{"x":0.022,"y":9.78,"c":"g"},{"x":0.026,"y":9.75,"c":"g"},{"x":0.029,"y":9.68,"c":"g"},{"x":0.0195,"y":9.5,"c":"g"},{"x":0.022,"y":9.6,"c":"g"},{"x":0.025,"y":9.6,"c":"g"},{"x":0.023,"y":9.4,"c":"g"},{"x":0.0275,"y":9.4,"c":"g"},{"x":0.028,"y":9.55,"c":"g"},{"x":0.0325,"y":9.5,"c":"g"},{"x":0.033,"y":9.45,"c":"g"},{"x":0.03,"y":9.27,"c":"g"},{"x":0.03,"y":9.13,"c":"g"},{"x":0.027,"y":9.14,"c":"g"},{"x":0.035,"y":9.05,"c":"g"},{"x":0.025,"y":9.0,"c":"g"},{"x":0.016,"y":9.25,"c":"g"},{"x":0.018,"y":9.25,"c":"g"},{"x":0.019,"y":8.98,"c":"g"},{"x":0.0185,"y":14.48,"c":"p"},{"x":0.028,"y":14.2,"c":"p"},{"x":0.0215,"y":13.2,"c":"p"},{"x":0.0245,"y":13.15,"c":"p"},{"x":0.0255,"y":12.95,"c":"p"},{"x":0.034,"y":13.0,"c":"p"},{"x":0.028,"y":12.75,"c":"p"},{"x":0.03,"y":12.85,"c":"p"},{"x":0.019,"y":12.7,"c":"p"},{"x":0.0415,"y":12.55,"c":"p"},{"x":0.023,"y":12.5,"c":"p"},{"x":0.023,"y":12.3,"c":"p"},{"x":0.03,"y":12.25,"c":"p"},{"x":0.013,"y":12.03,"c":"p"},{"x":0.0465,"y":12.27,"c":"p"},{"x":0.061,"y":12.78,"c":"p"},{"x":0.0655,"y":12.62,"c":"p"},{"x":0.0625,"y":12.1,"c":"p"},{"x":0.088,"y":12.08,"c":"p"},{"x":0.0485,"y":11.9,"c":"p"},{"x":0.03,"y":11.97,"c":"p"},{"x":0.024,"y":11.9,"c":"p"},{"x":0.0565,"y":11.7,"c":"p"},{"x":0.0455,"y":11.22,"c":"p"},{"x":0.0525,"y":11.12,"c":"p"},{"x":0.0645,"y":11.27,"c":"p"},{"x":0.067,"y":11.37,"c":"p"},{"x":0.056,"y":10.8,"c":"p"},{"x":0.04,"y":10.75,"c":"p"},{"x":0.038,"y":10.7,"c":"p"},{"x":0.023,"y":11.1,"c":"p"},{"x":0.016,"y":10.92,"c":"p"},{"x":0.016,"y":10.62,"c":"p"},{"x":0.016,"y":10.45,"c":"p"},{"x":0.018,"y":10.35,"c":"p"},{"x":0.036,"y":10.0,"c":"p"},{"x":0.039,"y":9.9,"c":"p"},{"x":0.0245,"y":9.95,"c":"p"},{"x":0.0285,"y":9.85,"c":"p"},{"x":0.0645,"y":9.7,"c":"p"},{"x":0.0165,"y":9.37,"c":"p"},{"x":0.0355,"y":9.2,"c":"p"},{"x":0.03,"y":8.85,"c":"p"},{"x":0.03,"y":9.1,"c":"p"},{"x":0.035,"y":11.53,"c":"p"},{"x":0.033,"y":10.15,"c":"p"},{"x":0.025,"y":10.2,"c":"p"},{"x":0.0255,"y":13.58,"c":"s"},{"x":0.035,"y":13.12,"c":"s"},{"x":0.0175,"y":12.92,"c":"s"},{"x":0.0195,"y":13.1,"c":"s"},{"x":0.0315,"y":12.55,"c":"s"},{"x":0.0295,"y":12.45,"c":"s"},{"x":0.037,"y":12.38,"c":"s"},{"x":0.039,"y":12.3,"c":"s"},{"x":0.0325,"y":12.27,"c":"s"},{"x":0.021,"y":12.33,"c":"s"},{"x":0.027,"y":12.13,"c":"s"},{"x":0.0205,"y":12.0,"c":"s"},{"x":0.0185,"y":11.97,"c":"s"},{"x":0.0315,"y":11.8,"c":"s"},{"x":0.0315,"y":11.67,"c":"s"},{"x":0.04,"y":11.7,"c":"s"},{"x":0.0255,"y":11.5,"c":"s"},{"x":0.038,"y":11.4,"c":"s"},{"x":0.0165,"y":11.27,"c":"s"},{"x":0.0225,"y":11.26,"c":"s"},{"x":0.035,"y":11.3,"c":"s"},{"x":0.0355,"y":11.2,"c":"s"},{"x":0.019,"y":10.9,"c":"s"},{"x":0.0325,"y":10.98,"c":"s"},{"x":0.0325,"y":10.83,"c":"s"},{"x":0.0275,"y":10.6,"c":"s"},{"x":0.0295,"y":10.56,"c":"s"},{"x":0.032,"y":10.6,"c":"s"},{"x":0.046,"y":10.57,"c":"s"},{"x":0.039,"y":10.3,"c":"s"},{"x":0.0385,"y":10.12,"c":"s"},{"x":0.0245,"y":10.12,"c":"s"},{"x":0.0315,"y":10.1,"c":"s"},{"x":0.015,"y":10.08,"c":"s"},{"x":0.0325,"y":9.83,"c":"s"},{"x":0.0175,"y":9.77,"c":"s"},{"x":0.0235,"y":9.45,"c":"s"},{"x":0.038,"y":9.27,"c":"s"},{"x":0.0165,"y":9.08,"c":"s"},{"x":0.0295,"y":9.0,"c":"s"},{"x":0.0315,"y":8.8,"c":"s"},{"x":0.033,"y":8.62,"c":"s"},{"x":0.013,"y":13.6,"c":"r"},{"x":0.028,"y":13.7,"c":"r"},{"x":0.016,"y":11.65,"c":"r"},{"x":0.019,"y":11.67,"c":"r"},{"x":0.0485,"y":10.79,"c":"r"},{"x":0.0275,"y":11.35,"c":"r"},{"x":0.029,"y":10.4,"c":"k"},{"x":0.0305,"y":13.22,"c":"g","m":"m"},{"x":0.027,"y":11.2,"c":"s","m":"m"},{"x":0.032,"y":11.33,"c":"p","m":"m"},{"x":0.0625,"y":11.03,"c":"g","m":"m"},{"x":0.0265,"y":10.35,"c":"g","m":"m"},{"x":0.0305,"y":10.35,"c":"p","m":"m"},{"x":0.0295,"y":11.08,"c":"g","m":"t"}],
"s4":[{"x":0.305,"y":6.27,"c":"g"},{"x":0.292,"y":5.15,"c":"g"},{"x":0.263,"y":4.55,"c":"g"},{"x":0.281,"y":9.97,"c":"g"},{"x":0.262,"y":8.97,"c":"g"},{"x":0.25,"y":6.87,"c":"g"},{"x":0.248,"y":8.0,"c":"g"},{"x":0.24,"y":8.85,"c":"g"},{"x":0.238,"y":6.05,"c":"g"},{"x":0.241,"y":5.55,"c":"g"},{"x":0.234,"y":6.6,"c":"g"},{"x":0.225,"y":6.45,"c":"g"},{"x":0.223,"y":8.37,"c":"g"},{"x":0.218,"y":9.0,"c":"g"},{"x":0.216,"y":10.0,"c":"g"},{"x":0.215,"y":7.65,"c":"g"},{"x":0.215,"y":5.92,"c":"g"},{"x":0.217,"y":3.3,"c":"g"},{"x":0.207,"y":9.23,"c":"g"},{"x":0.203,"y":6.93,"c":"g"},{"x":0.19,"y":10.3,"c":"g"},{"x":0.19,"y":7.4,"c":"g"},{"x":0.205,"y":11.53,"c":"g"},{"x":0.2,"y":8.4,"c":"g"},{"x":0.198,"y":7.9,"c":"g"},{"x":0.185,"y":6.8,"c":"g"},{"x":0.186,"y":6.25,"c":"g"},{"x":0.177,"y":6.8,"c":"g"},{"x":0.175,"y":4.58,"c":"g"},{"x":0.17,"y":5.8,"c":"g"},{"x":0.17,"y":8.72,"c":"g"},{"x":0.15,"y":8.7,"c":"g"},{"x":0.136,"y":12.57,"c":"g"},{"x":0.168,"y":11.6,"c":"g"},{"x":0.105,"y":12.2,"c":"g"},{"x":0.075,"y":12.98,"c":"g"},{"x":0.061,"y":12.48,"c":"g"},{"x":0.024,"y":11.85,"c":"g"},{"x":0.088,"y":11.88,"c":"g"},{"x":0.09,"y":11.85,"c":"g"},{"x":0.1,"y":11.7,"c":"g"},{"x":0.1,"y":11.2,"c":"g"},{"x":0.02,"y":10.75,"c":"g"},{"x":0.025,"y":10.5,"c":"g"},{"x":0.053,"y":10.47,"c":"g"},{"x":0.07,"y":10.37,"c":"g"},{"x":0.1,"y":10.35,"c":"g"},{"x":0.115,"y":10.6,"c":"g"},{"x":0.12,"y":10.55,"c":"g"},{"x":0.145,"y":10.75,"c":"g"},{"x":0.14,"y":10.55,"c":"g"},{"x":0.15,"y":10.1,"c":"g"},{"x":0.05,"y":9.95,"c":"g"},{"x":0.03,"y":9.45,"c":"g"},{"x":0.06,"y":9.38,"c":"g"},{"x":0.1,"y":9.9,"c":"g"},{"x":0.138,"y":9.7,"c":"g"},{"x":0.03,"y":9.0,"c":"g"},{"x":0.07,"y":8.75,"c":"g"},{"x":0.05,"y":8.9,"c":"g"},{"x":0.07,"y":9.1,"c":"g"},{"x":0.1,"y":9.0,"c":"g"},{"x":0.12,"y":8.6,"c":"g"},{"x":0.13,"y":8.3,"c":"g"},{"x":0.16,"y":8.5,"c":"g"},{"x":0.06,"y":8.35,"c":"g"},{"x":0.045,"y":8.0,"c":"g"},{"x":0.06,"y":7.8,"c":"g"},{"x":0.09,"y":7.9,"c":"g"},{"x":0.1,"y":7.7,"c":"g"},{"x":0.14,"y":7.9,"c":"g"},{"x":0.16,"y":7.85,"c":"g"},{"x":0.17,"y":8.0,"c":"g"},{"x":0.025,"y":7.65,"c":"g"},{"x":0.05,"y":7.3,"c":"g"},{"x":0.07,"y":7.5,"c":"g"},{"x":0.1,"y":7.2,"c":"g"},{"x":0.12,"y":7.15,"c":"g"},{"x":0.16,"y":7.5,"c":"g"},{"x":0.025,"y":7.1,"c":"g"},{"x":0.025,"y":6.35,"c":"g"},{"x":0.04,"y":6.45,"c":"g"},{"x":0.06,"y":6.2,"c":"g"},{"x":0.09,"y":6.1,"c":"g"},{"x":0.105,"y":5.85,"c":"g"},{"x":0.115,"y":5.75,"c":"g"},{"x":0.025,"y":5.8,"c":"g"},{"x":0.035,"y":5.85,"c":"g"},{"x":0.06,"y":5.7,"c":"g"},{"x":0.13,"y":5.55,"c":"g"},{"x":0.16,"y":5.5,"c":"g"},{"x":0.14,"y":5.85,"c":"g"},{"x":0.16,"y":5.93,"c":"g"},{"x":0.032,"y":4.78,"c":"g"},{"x":0.043,"y":4.55,"c":"g"},{"x":0.028,"y":4.42,"c":"g"},{"x":0.072,"y":4.4,"c":"g"},{"x":0.084,"y":4.5,"c":"g"},{"x":0.105,"y":3.95,"c":"g"},{"x":0.14,"y":3.82,"c":"g"},{"x":0.112,"y":3.3,"c":"g"},{"x":0.028,"y":3.3,"c":"g"},{"x":0.13,"y":4.78,"c":"g"},{"x":0.15,"y":5.0,"c":"g"},{"x":0.666,"y":2.53,"c":"p"},{"x":0.393,"y":5.1,"c":"p"},{"x":0.08,"y":2.38,"c":"p"},{"x":0.035,"y":5.45,"c":"p"},{"x":0.102,"y":5.45,"c":"p"},{"x":0.183,"y":5.45,"c":"p"},{"x":0.085,"y":5.45,"c":"p"},{"x":0.08,"y":5.75,"c":"p"},{"x":0.105,"y":6.0,"c":"p"},{"x":0.11,"y":6.25,"c":"p"},{"x":0.11,"y":6.55,"c":"p"},{"x":0.06,"y":6.55,"c":"p"},{"x":0.035,"y":6.45,"c":"p"},{"x":0.025,"y":6.55,"c":"p"},{"x":0.025,"y":6.7,"c":"p"},{"x":0.02,"y":6.85,"c":"p"},{"x":0.185,"y":6.05,"c":"p"},{"x":0.165,"y":6.45,"c":"p"},{"x":0.155,"y":6.7,"c":"p"},{"x":0.14,"y":6.8,"c":"p"},{"x":0.13,"y":7.45,"c":"p"},{"x":0.135,"y":7.2,"c":"p"},{"x":0.18,"y":7.55,"c":"p"},{"x":0.162,"y":7.55,"c":"p"},{"x":0.05,"y":7.2,"c":"p"},{"x":0.07,"y":7.4,"c":"p"},{"x":0.075,"y":7.1,"c":"p"},{"x":0.105,"y":7.5,"c":"p"},{"x":0.11,"y":7.7,"c":"p"},{"x":0.135,"y":7.8,"c":"p"},{"x":0.13,"y":8.2,"c":"p"},{"x":0.145,"y":8.3,"c":"p"},{"x":0.11,"y":8.05,"c":"p"},{"x":0.225,"y":8.1,"c":"p"},{"x":0.2,"y":8.45,"c":"p"},{"x":0.17,"y":8.45,"c":"p"},{"x":0.025,"y":8.2,"c":"p"},{"x":0.025,"y":8.0,"c":"p"},{"x":0.05,"y":8.92,"c":"p"},{"x":0.025,"y":9.4,"c":"p"},{"x":0.085,"y":9.1,"c":"p"},{"x":0.085,"y":8.9,"c":"p"},{"x":0.105,"y":8.95,"c":"p"},{"x":0.13,"y":9.0,"c":"p"},{"x":0.155,"y":9.15,"c":"p"},{"x":0.25,"y":8.93,"c":"p"},{"x":0.215,"y":9.72,"c":"p"},{"x":0.205,"y":9.5,"c":"p"},{"x":0.1,"y":9.75,"c":"p"},{"x":0.135,"y":10.05,"c":"p"},{"x":0.035,"y":10.35,"c":"p"},{"x":0.11,"y":10.35,"c":"p"},{"x":0.135,"y":10.83,"c":"p"},{"x":0.14,"y":10.65,"c":"p"},{"x":0.07,"y":10.7,"c":"p"},{"x":0.065,"y":11.03,"c":"p"},{"x":0.075,"y":10.95,"c":"p"},{"x":0.08,"y":10.8,"c":"p"},{"x":0.078,"y":11.42,"c":"p"},{"x":0.085,"y":11.3,"c":"p"},{"x":0.033,"y":11.27,"c":"p"},{"x":0.143,"y":11.18,"c":"p"},{"x":0.19,"y":11.27,"c":"p"},{"x":0.207,"y":11.22,"c":"p"},{"x":0.043,"y":11.93,"c":"p"},{"x":0.065,"y":12.5,"c":"p"},{"x":0.092,"y":3.8,"c":"s"},{"x":0.113,"y":4.75,"c":"s"},{"x":0.144,"y":4.88,"c":"s"},{"x":0.165,"y":5.53,"c":"s"},{"x":0.275,"y":5.6,"c":"s"},{"x":0.172,"y":6.17,"c":"s"},{"x":0.122,"y":6.07,"c":"s"},{"x":0.033,"y":6.08,"c":"s"},{"x":0.118,"y":5.85,"c":"s"},{"x":0.08,"y":6.3,"c":"s"},{"x":0.094,"y":6.4,"c":"s"},{"x":0.143,"y":6.3,"c":"s"},{"x":0.077,"y":6.55,"c":"s"},{"x":0.232,"y":6.5,"c":"s"},{"x":0.143,"y":6.53,"c":"s"},{"x":0.066,"y":6.88,"c":"s"},{"x":0.03,"y":6.9,"c":"s"},{"x":0.035,"y":7.03,"c":"s"},{"x":0.168,"y":6.95,"c":"s"},{"x":0.093,"y":6.73,"c":"s"},{"x":0.105,"y":7.05,"c":"s"},{"x":0.093,"y":7.27,"c":"s"},{"x":0.11,"y":7.55,"c":"s"},{"x":0.028,"y":7.4,"c":"s"},{"x":0.03,"y":7.55,"c":"s"},{"x":0.043,"y":7.6,"c":"s"},{"x":0.26,"y":7.6,"c":"s"},{"x":0.21,"y":7.6,"c":"s"},{"x":0.238,"y":7.78,"c":"s"},{"x":0.245,"y":7.85,"c":"s"},{"x":0.035,"y":7.75,"c":"s"},{"x":0.027,"y":7.95,"c":"s"},{"x":0.075,"y":7.85,"c":"s"},{"x":0.067,"y":7.95,"c":"s"},{"x":0.077,"y":8.0,"c":"s"},{"x":0.085,"y":8.2,"c":"s"},{"x":0.1,"y":8.15,"c":"s"},{"x":0.224,"y":8.0,"c":"s"},{"x":0.165,"y":8.4,"c":"s"},{"x":0.168,"y":8.17,"c":"s"},{"x":0.185,"y":8.25,"c":"s"},{"x":0.195,"y":8.2,"c":"s"},{"x":0.035,"y":8.2,"c":"s"},{"x":0.042,"y":8.38,"c":"s"},{"x":0.032,"y":8.45,"c":"s"},{"x":0.067,"y":8.3,"c":"s"},{"x":0.087,"y":8.6,"c":"s"},{"x":0.13,"y":8.75,"c":"s"},{"x":0.138,"y":8.6,"c":"s"},{"x":0.105,"y":8.45,"c":"s"},{"x":0.018,"y":8.8,"c":"s"},{"x":0.027,"y":8.8,"c":"s"},{"x":0.026,"y":8.6,"c":"s"},{"x":0.1,"y":8.8,"c":"s"},{"x":0.145,"y":8.6,"c":"s"},{"x":0.14,"y":9.0,"c":"s"},{"x":0.223,"y":8.9,"c":"s"},{"x":0.223,"y":9.28,"c":"s"},{"x":0.178,"y":9.22,"c":"s"},{"x":0.03,"y":9.27,"c":"s"},{"x":0.038,"y":9.22,"c":"s"},{"x":0.09,"y":9.43,"c":"s"},{"x":0.085,"y":9.28,"c":"s"},{"x":0.128,"y":9.55,"c":"s"},{"x":0.128,"y":9.48,"c":"s"},{"x":0.11,"y":9.55,"c":"s"},{"x":0.17,"y":9.6,"c":"s"},{"x":0.155,"y":9.8,"c":"s"},{"x":0.027,"y":9.6,"c":"s"},{"x":0.053,"y":9.6,"c":"s"},{"x":0.065,"y":9.98,"c":"s"},{"x":0.07,"y":9.97,"c":"s"},{"x":0.028,"y":10.8,"c":"s"},{"x":0.09,"y":11.03,"c":"s"},{"x":0.096,"y":10.8,"c":"s"},{"x":0.165,"y":11.33,"c":"s"},{"x":0.055,"y":10.15,"c":"r"},{"x":0.136,"y":10.15,"c":"r"},{"x":0.025,"y":9.8,"c":"r"},{"x":0.08,"y":9.73,"c":"r"},{"x":0.09,"y":9.8,"c":"r"},{"x":0.085,"y":7.0,"c":"r"},{"x":0.09,"y":6.85,"c":"r"},{"x":0.075,"y":5.55,"c":"r"},{"x":0.048,"y":6.55,"c":"k"},{"x":0.145,"y":7.65,"c":"k"},{"x":0.16,"y":7.25,"c":"k"},{"x":0.16,"y":8.0,"c":"k"},{"x":0.025,"y":10.15,"c":"g","m":"m"},{"x":0.027,"y":10.0,"c":"g","m":"m"},{"x":0.075,"y":10.15,"c":"g","m":"m"},{"x":0.081,"y":10.0,"c":"g","m":"m"},{"x":0.03,"y":7.33,"c":"g","m":"m"},{"x":0.155,"y":7.33,"c":"g","m":"m"},{"x":0.072,"y":6.0,"c":"g","m":"m"},{"x":0.072,"y":4.32,"c":"g","m":"m"},{"x":0.148,"y":6.37,"c":"p","m":"s"}]
},
"layer":[
{"data":{"values":[{"t":"A"}]},"mark":{"type":"text","font":"Liberation Serif","fontWeight":"bold","fontSize":42,"align":"left","baseline":"alphabetic","color":"#000"},"encoding":{"x":{"datum":0,"type":"quantitative","axis":null,"scale":{"domain":[0,1],"range":[2,3]}},"y":{"datum":0,"type":"quantitative","axis":null,"scale":{"domain":[0,1],"range":[38,39]}},"text":{"field":"t"}}},
{"data":{"values":[{"i":0,"t":"B"},{"i":1,"t":"C"},{"i":2,"t":"D"}]},"mark":{"type":"text","font":"Liberation Serif","fontWeight":"bold","fontSize":49,"align":"left","baseline":"alphabetic","color":"#000"},"encoding":{"x":{"field":"i","type":"quantitative","axis":null,"scale":{"domain":[0,1,2],"range":[3,513,3]}},"y":{"field":"i","type":"quantitative","axis":null,"scale":{"domain":[0,1,2],"range":[335,336,1432]}},"text":{"field":"t"}}},

{"data":{"name":"onco"},"transform":[{"fold":["OAS1","OAS2","OAS3","OASL"],"as":["g","v"]}],
"encoding":{"x":{"field":"c","type":"ordinal","axis":null,"sort":"ascending","scale":{"type":"band","range":[177.6,1943.5],"paddingInner":0.2,"paddingOuter":0}},"y":{"field":"g","type":"nominal","axis":null,"scale":{"type":"band","domain":["OAS1","OAS2","OAS3","OASL"],"range":[53.5,183],"paddingInner":0.286,"paddingOuter":0}}},
"layer":[{"mark":{"type":"rect"},"encoding":{"fill":{"condition":{"test":"datum.v=='a'||datum.v=='am'","value":"#ff0000"},"value":"#bdbdbd"}}},
{"transform":[{"filter":"datum.v=='m'||datum.v=='s'||datum.v=='t'||datum.v=='am'"}],"mark":{"type":"rect","height":8},"encoding":{"color":{"field":"v","type":"nominal","legend":null,"scale":{"domain":["am","m","s","t"],"range":["#55d400","#55d400","#f3bc7f","#6d7f96"]}}}}]},

{"data":{"values":[{"i":0,"name":"OAS1","pct":"2.6%*"},{"i":1,"name":"OAS2","pct":"4%*"},{"i":2,"name":"OAS3","pct":"3%*"},{"i":3,"name":"OASL","pct":"2%*"}]},
"encoding":{"y":{"field":"i","type":"quantitative","axis":null,"scale":{"domain":[0,1,2,3],"range":[65.8,100.9,135.6,170.6]}},"x":{"datum":0,"type":"quantitative","axis":null,"scale":{"domain":[0,1],"range":[16,134]}}},
"layer":[{"mark":{"type":"text","align":"left","fontWeight":"bold","fontSize":14,"color":"#222"},"encoding":{"text":{"field":"name"}}},
{"mark":{"type":"text","align":"left","fontSize":12.5,"color":"#444"},"encoding":{"x":{"datum":1,"type":"quantitative","axis":null},"text":{"field":"pct"}}}]},

{"data":{"values":[{"t":"Genetic Alteration"}]},"mark":{"type":"text","align":"left","fontWeight":"bold","fontSize":12.5,"color":"#222"},"encoding":{"x":{"datum":0,"type":"quantitative","axis":null,"scale":{"domain":[0,1],"range":[16,17]}},"y":{"datum":0,"type":"quantitative","axis":null,"scale":{"domain":[0,1],"range":[228,229]}},"text":{"field":"t"}}},

{"data":{"values":[{"bar":"scroll"}]},"mark":{"type":"rect","color":"#c8c8c8","cornerRadius":4},"encoding":{"x":{"datum":0,"type":"quantitative","axis":null,"scale":{"domain":[0,1],"range":[178,318]}},"x2":{"datum":1},"y":{"datum":0,"type":"quantitative","axis":null,"scale":{"domain":[0,1],"range":[200,209]}},"y2":{"datum":1}}},

{"data":{"values":[{"i":0,"k":"m","t":"Missense Mutation (unknown significance)"},{"i":1,"k":"s","t":"Splice Mutation (unknown significance)"},{"i":2,"k":"t","t":"Truncating Mutation (unknown significance)"},{"i":3,"k":"a","t":"Amplification"},{"i":4,"k":"n","t":"No alterations"},{"i":5,"k":"x","t":"Not profiled"}]},
"resolve":{"scale":{"color":"independent"}},
"encoding":{"x":{"field":"i","type":"quantitative","axis":null,"scale":{"domain":[0,1,2,3,4,5],"range":[240.4,511.5,763.4,1039.7,1144.5,1255]}},"y":{"datum":0,"type":"quantitative","axis":null,"scale":{"domain":[0,1],"range":[231,232]}}},
"layer":[{"transform":[{"filter":"datum.k!='x'"}],"mark":{"type":"rect","width":7,"height":22},"encoding":{"color":{"field":"k","type":"nominal","legend":null,"scale":{"domain":["m","s","t","a","n"],"range":["#bdbdbd","#bdbdbd","#bdbdbd","#ff0000","#bdbdbd"]}}}},
{"transform":[{"filter":"datum.k=='m'||datum.k=='s'||datum.k=='t'"}],"mark":{"type":"rect","width":7,"height":7.5},"encoding":{"color":{"field":"k","type":"nominal","legend":null,"scale":{"domain":["m","s","t"],"range":["#55d400","#f3bc7f","#6d7f96"]}}}},
{"transform":[{"filter":"datum.k=='x'"}],"mark":{"type":"rect","width":7,"height":2,"color":"#ddd"}},
{"mark":{"type":"text","align":"left","dx":8.5,"fontSize":12.7,"color":"#333"},"encoding":{"text":{"field":"t"}}}]},

{"data":{"values":[2,4,6,8]},"mark":{"type":"rule","color":"#eeeeee","strokeDash":[14,8],"strokeWidth":1.5},"encoding":{"y":{"field":"data","type":"quantitative","axis":null,"scale":{"domain":[0,8.4],"nice":false,"range":[765.5,343.8]}},"x":{"datum":0,"type":"quantitative","axis":null,"scale":{"domain":[0,1],"range":[213,293]}},"x2":{"datum":1}}},

{"data":{"values":[{"cat":"Bladder Urothelial Carcinoma","k":"Multiple Alterations","o":0,"v":0.17},{"cat":"Bladder Urothelial Carcinoma","k":"Amplification","o":1,"v":1.87},{"cat":"Bladder Urothelial Carcinoma","k":"Mutation","o":2,"v":5.93},{"cat":"Bladder/Urinary Tract","k":"Amplification","o":1,"v":1.38},{"cat":"Bladder/Urinary Tract","k":"Mutation","o":2,"v":4.16}]},"mark":{"type":"bar"},"encoding":{"x":{"field":"cat","type":"nominal","sort":null,"scale":{"type":"band","domain":["Bladder Urothelial Carcinoma","Bladder/Urinary Tract"],"range":[213,293],"paddingInner":0.222,"paddingOuter":0.222},"axis":{"orient":"bottom","offset":-1210.5,"title":null,"labels":false,"ticks":false,"domainColor":"#222","domainWidth":2}},"y":{"field":"v","type":"quantitative","stack":"zero","scale":{"domain":[0,8.4],"nice":false,"range":[765.5,343.8]},"axis":{"orient":"left","offset":-213,"values":[2,4,6,8],"labelExpr":"datum.label+'%'","title":"Alteration Frequency","titleX":-81,"titleY":552,"titleFontSize":18.5,"titleColor":"#444","labelFontSize":18,"labelColor":"#333","tickSize":6,"tickColor":"#333","domainColor":"#222","domainWidth":2,"labelPadding":4}},"order":{"field":"o","type":"quantitative"},"color":{"field":"k","type":"nominal","legend":null,"scale":{"domain":["Mutation","Amplification","Multiple Alterations"],"range":["#008000","#ff0000","#666666"]}}}},

{"data":{"values":[{"cat":"Bladder Urothelial Carcinoma","row":"Structural variant data","v":"+"},{"cat":"Bladder/Urinary Tract","row":"Structural variant data","v":"−"},{"cat":"Bladder Urothelial Carcinoma","row":"Mutation data","v":"+"},{"cat":"Bladder/Urinary Tract","row":"Mutation data","v":"+"},{"cat":"Bladder Urothelial Carcinoma","row":"CNA data","v":"+"},{"cat":"Bladder/Urinary Tract","row":"CNA data","v":"+"}]},"mark":{"type":"text","fontWeight":"bold","fontSize":26,"color":"#000"},"encoding":{"x":{"field":"cat","type":"nominal","sort":null,"scale":{"type":"band","domain":["Bladder Urothelial Carcinoma","Bladder/Urinary Tract"],"range":[213,293],"paddingInner":0.222,"paddingOuter":0.222},"axis":{"orient":"bottom","offset":-1090,"title":null,"domain":false,"ticks":false,"labelAngle":50,"labelAlign":"left","labelBaseline":"middle","labelFontSize":18.5,"labelColor":"#333","labelPadding":8,"labelOffset":-7}},"y":{"field":"row","type":"nominal","sort":null,"scale":{"type":"point","domain":["Structural variant data","Mutation data","CNA data"],"range":[788,858.5],"padding":0},"axis":{"orient":"left","offset":-213,"title":null,"domain":false,"ticks":false,"labelFontSize":18.5,"labelColor":"#333","labelPadding":3}},"text":{"field":"v"}}},

{"data":{"values":[{"i":0,"k":"Mutation"},{"i":1,"k":"Amplification"},{"i":2,"k":"Multiple Alterations"}]},"encoding":{"y":{"field":"i","type":"quantitative","axis":null,"scale":{"domain":[0,1,2],"range":[1245,1285.5,1327]}},"x":{"datum":0,"type":"quantitative","axis":null,"scale":{"domain":[0,1],"range":[107,108]}}},"layer":[{"mark":{"type":"circle","size":110,"opacity":1,"stroke":"#222","strokeWidth":1.5},"encoding":{"color":{"field":"k","type":"nominal","legend":null,"scale":{"domain":["Mutation","Amplification","Multiple Alterations"],"range":["#008000","#ff0000","#666666"]}}}},{"mark":{"type":"text","align":"left","dx":29,"dy":1,"fontSize":26,"color":"#333"},"encoding":{"text":{"field":"k"}}}]},

{"data":{"values":[{"what":"divider"}]},"mark":{"type":"rule","color":"#eeeeee","strokeWidth":1.5},"encoding":{"x":{"datum":27,"type":"quantitative","axis":null,"scale":{"domain":[0,1944],"range":[0,1944]}},"x2":{"datum":387},"y":{"datum":1087,"type":"quantitative","axis":null,"scale":{"domain":[0,1976],"range":[0,1976]}}}},
{"data":{"values":[{"what":"speck"}]},"mark":{"type":"rule","color":"#bbbbbb","strokeWidth":1.5},"encoding":{"x":{"datum":397,"type":"quantitative","axis":null,"scale":{"domain":[0,1944],"range":[0,1944]}},"x2":{"datum":401},"y":{"datum":300,"type":"quantitative","axis":null,"scale":{"domain":[0,1976],"range":[0,1976]}}}},

{"resolve":{"scale":{"color":"independent"}},"layer":[
{"data":{"name":"m1"},"mark":{"type":"rule","color":"#babdb6","strokeWidth":1.5},"encoding":{"x":{"field":"aa","type":"quantitative","scale":{"domain":[0,400],"nice":false,"range":[652.6,1659]},"axis":{"style":"cx","orient":"bottom","offset":-1461,"title":null,"values":[0,50,100,150,200,250,300,350,400],"labelExpr":"datum.value==400?'400aa':datum.value%100==0?datum.value:''"}},"y":{"field":"n","type":"quantitative","scale":{"domain":[0,5],"nice":false,"range":[462,279.7]},"axis":{"style":"cy","orient":"left","offset":-638,"title":"# OAS1 Mutations","titleX":-54,"format":"d","values":[0,1,2,3,4,5],"labelExpr":"datum.value==0||datum.value==5?datum.label:''"}},"y2":{"datum":-0.41}}},
{"data":{"values":[{"gene":"OAS1"}]},"mark":{"type":"rect","color":"#babdb6"},"encoding":{"x":{"datum":0,"type":"quantitative"},"x2":{"datum":400},"y":{"datum":-0.411,"type":"quantitative"},"y2":{"datum":-1.026}}},
{"data":{"values":[{"s":52.4,"e":104,"k":"g"},{"s":163.3,"e":345,"k":"r"}]},"mark":{"type":"rect"},"encoding":{"x":{"field":"s","type":"quantitative"},"x2":{"field":"e"},"y":{"datum":-0.192,"type":"quantitative"},"y2":{"datum":-1.262},"color":{"field":"k","type":"nominal","legend":null,"scale":{"domain":["g","r"],"range":["#2dcf00","#ff5353"]}}}},
{"data":{"values":[{"t":"NTP_trans..","mid":78.2},{"t":"OAS1_C","mid":254}]},"mark":{"type":"text","color":"white","fontSize":18.5,"dy":-2},"encoding":{"x":{"field":"mid","type":"quantitative"},"y":{"datum":-0.73,"type":"quantitative"},"text":{"field":"t"}}},
{"data":{"name":"m1"},"mark":{"type":"circle","size":60,"opacity":1},"encoding":{"x":{"field":"aa","type":"quantitative"},"y":{"field":"n","type":"quantitative"},"color":{"field":"k","type":"nominal","legend":null,"scale":{"domain":["m","t","s"],"range":["#55d400","#708090","#f0b87b"]}}}},
{"data":{"name":"m1"},"transform":[{"filter":"datum.lab"}],"mark":{"type":"text","dy":-18,"fontSize":15.5,"color":"#333"},"encoding":{"x":{"field":"aa","type":"quantitative"},"y":{"field":"n","type":"quantitative"},"text":{"field":"lab"}}}
]},

{"resolve":{"scale":{"color":"independent"}},"layer":[
{"data":{"name":"m2"},"mark":{"type":"rule","color":"#babdb6","strokeWidth":1.5},"encoding":{"x":{"field":"aa","type":"quantitative","scale":{"domain":[0,719],"nice":false,"range":[652.6,1659]},"axis":{"style":"cx","orient":"bottom","offset":-1183,"title":null,"values":[0,50,100,150,200,250,300,350,400,450,500,550,600,650,700,719],"labelExpr":"datum.value==719?'719aa':datum.value%100==0&&datum.value<700?datum.value:''"}},"y":{"field":"n","type":"quantitative","scale":{"domain":[0,5],"nice":false,"range":[740,557.6]},"axis":{"style":"cy","orient":"left","offset":-638,"title":"# OAS2 Mutations","titleX":-54,"format":"d","values":[0,1,2,3,4,5],"labelExpr":"datum.value==0||datum.value==5?datum.label:''"}},"y2":{"datum":-0.43}}},
{"data":{"values":[{"gene":"OAS2"}]},"mark":{"type":"rect","color":"#babdb6"},"encoding":{"x":{"datum":0,"type":"quantitative"},"x2":{"datum":719},"y":{"datum":-0.43,"type":"quantitative"},"y2":{"datum":-1.03}}},
{"data":{"values":[{"s":153.3,"e":338,"k":"g"},{"s":373,"e":437,"k":"r"},{"s":496,"e":684,"k":"g"}]},"mark":{"type":"rect"},"encoding":{"x":{"field":"s","type":"quantitative"},"x2":{"field":"e"},"y":{"datum":-0.214,"type":"quantitative"},"y2":{"datum":-1.247},"color":{"field":"k","type":"nominal","legend":null,"scale":{"domain":["g","r"],"range":["#2dcf00","#ff5353"]}}}},
{"data":{"values":[{"t":"OAS1_C","mid":245.6},{"t":"NTP_t..","mid":405},{"t":"OAS1_C","mid":590}]},"mark":{"type":"text","color":"white","fontSize":18.5,"dy":-2},"encoding":{"x":{"field":"mid","type":"quantitative"},"y":{"datum":-0.73,"type":"quantitative"},"text":{"field":"t"}}},
{"data":{"name":"m2"},"mark":{"type":"circle","size":60,"opacity":1},"encoding":{"x":{"field":"aa","type":"quantitative"},"y":{"field":"n","type":"quantitative"},"color":{"field":"k","type":"nominal","legend":null,"scale":{"domain":["m","t","s"],"range":["#55d400","#708090","#f0b87b"]}}}},
{"data":{"name":"m2"},"transform":[{"filter":"datum.lab"}],"mark":{"type":"text","dy":-18,"fontSize":15.5,"color":"#333"},"encoding":{"x":{"field":"aa","type":"quantitative"},"y":{"field":"n","type":"quantitative"},"text":{"field":"lab"}}}
]},

{"resolve":{"scale":{"color":"independent"}},"layer":[
{"data":{"name":"m3"},"mark":{"type":"rule","color":"#babdb6","strokeWidth":1.5},"encoding":{"x":{"field":"aa","type":"quantitative","scale":{"domain":[0,1087],"nice":false,"range":[650.8,1657]},"axis":{"style":"cx","orient":"bottom","offset":-907,"title":null,"values":[0,100,200,300,400,500,600,700,800,900,1000,1087],"labelExpr":"datum.value==1087?'1087aa':datum.value%200==0?datum.value:''"}},"y":{"field":"n","type":"quantitative","scale":{"domain":[0,5],"nice":false,"range":[1016,835]},"axis":{"style":"cy","orient":"left","offset":-638,"title":"# OAS3 Mutations","titleX":-54,"format":"d","values":[0,1,2,3,4,5],"labelExpr":"datum.value==0||datum.value==5?datum.label:''"}},"y2":{"datum":-0.414}}},
{"data":{"values":[{"gene":"OAS3"}]},"mark":{"type":"rect","color":"#babdb6"},"encoding":{"x":{"datum":0,"type":"quantitative"},"x2":{"datum":1087},"y":{"datum":-0.414,"type":"quantitative"},"y2":{"datum":-1.036}}},
{"data":{"values":[{"s":160,"e":341.7,"k":"g"},{"s":559.7,"e":745.3,"k":"g"},{"s":782.6,"e":845.4,"k":"r"},{"s":903.4,"e":1085,"k":"g"}]},"mark":{"type":"rect"},"encoding":{"x":{"field":"s","type":"quantitative"},"x2":{"field":"e"},"y":{"datum":-0.221,"type":"quantitative"},"y2":{"datum":-1.243},"color":{"field":"k","type":"nominal","legend":null,"scale":{"domain":["g","r"],"range":["#2dcf00","#ff5353"]}}}},
{"data":{"values":[{"t":"OAS1_C","mid":250.8},{"t":"OAS1_C","mid":652.5},{"t":"NT..","mid":814},{"t":"OAS1_C","mid":994.2}]},"mark":{"type":"text","color":"white","fontSize":18.5,"dy":-2},"encoding":{"x":{"field":"mid","type":"quantitative"},"y":{"datum":-0.73,"type":"quantitative"},"text":{"field":"t"}}},
{"data":{"name":"m3"},"mark":{"type":"circle","size":60,"opacity":1},"encoding":{"x":{"field":"aa","type":"quantitative"},"y":{"field":"n","type":"quantitative"},"color":{"field":"k","type":"nominal","legend":null,"scale":{"domain":["m","t","s"],"range":["#55d400","#708090","#f0b87b"]}}}},
{"data":{"name":"m3"},"transform":[{"filter":"datum.lab"}],"mark":{"type":"text","dy":-18,"fontSize":15.5,"color":"#333"},"encoding":{"x":{"field":"aa","type":"quantitative"},"y":{"field":"n","type":"quantitative"},"text":{"field":"lab"}}}
]},

{"resolve":{"scale":{"color":"independent"}},"layer":[
{"data":{"name":"m4"},"mark":{"type":"rule","color":"#babdb6","strokeWidth":1.5},"encoding":{"x":{"field":"aa","type":"quantitative","scale":{"domain":[0,514],"nice":false,"range":[652.6,1659]},"axis":{"style":"cx","orient":"bottom","offset":-626,"title":null,"values":[0,50,100,150,200,250,300,350,400,450,500,514],"labelExpr":"datum.value==514?'514aa':datum.value%100==0&&datum.value<500?datum.value:''"}},"y":{"field":"n","type":"quantitative","scale":{"domain":[0,5],"nice":false,"range":[1297,1116]},"axis":{"style":"cy","orient":"left","offset":-638,"title":"# OASL Mutations","titleX":-54,"format":"d","values":[0,1,2,3,4,5],"labelExpr":"datum.value==0||datum.value==5?datum.label:''"}},"y2":{"datum":-0.414}}},
{"data":{"values":[{"gene":"OASL"}]},"mark":{"type":"rect","color":"#babdb6"},"encoding":{"x":{"datum":0,"type":"quantitative"},"x2":{"datum":514},"y":{"datum":-0.414,"type":"quantitative"},"y2":{"datum":-1.036}}},
{"data":{"values":[{"s":167,"e":350,"k":"g"},{"s":438.8,"e":506,"k":"r"}]},"mark":{"type":"rect"},"encoding":{"x":{"field":"s","type":"quantitative"},"x2":{"field":"e"},"y":{"datum":-0.221,"type":"quantitative"},"y2":{"datum":-1.257},"color":{"field":"k","type":"nominal","legend":null,"scale":{"domain":["g","r"],"range":["#2dcf00","#ff5353"]}}}},
{"data":{"values":[{"t":"OAS1_C","mid":258.5},{"t":"ubiquitin","mid":472.4}]},"mark":{"type":"text","color":"white","fontSize":18.5,"dy":-2},"encoding":{"x":{"field":"mid","type":"quantitative"},"y":{"datum":-0.73,"type":"quantitative"},"text":{"field":"t"}}},
{"data":{"name":"m4"},"mark":{"type":"circle","size":60,"opacity":1},"encoding":{"x":{"field":"aa","type":"quantitative"},"y":{"field":"n","type":"quantitative"},"color":{"field":"k","type":"nominal","legend":null,"scale":{"domain":["m","t","s"],"range":["#55d400","#708090","#f0b87b"]}}}},
{"data":{"name":"m4"},"transform":[{"filter":"datum.lab"}],"mark":{"type":"text","dy":-18,"fontSize":15.5,"color":"#333"},"encoding":{"x":{"field":"aa","type":"quantitative"},"y":{"field":"n","type":"quantitative"},"text":{"field":"lab"}}}
]},

{"data":{"values":[{"i":0,"n":12,"k":"Missense"},{"i":1,"n":2,"k":"Truncating"},{"i":2,"n":0,"k":"Inframe"},{"i":3,"n":6,"k":"Splice"},{"i":4,"n":0,"k":"SV/Fusion"},{"i":5,"n":37,"k":"Missense"},{"i":6,"n":12,"k":"Truncating"},{"i":7,"n":0,"k":"Inframe"},{"i":8,"n":0,"k":"Splice"},{"i":9,"n":0,"k":"SV/Fusion"},{"i":10,"n":31,"k":"Missense"},{"i":11,"n":3,"k":"Truncating"},{"i":12,"n":0,"k":"Inframe"},{"i":13,"n":0,"k":"Splice"},{"i":14,"n":0,"k":"SV/Fusion"},{"i":15,"n":20,"k":"Missense"},{"i":16,"n":0,"k":"Truncating"},{"i":17,"n":0,"k":"Inframe"},{"i":18,"n":2,"k":"Splice"},{"i":19,"n":0,"k":"SV/Fusion"}]},
"encoding":{"x":{"field":"i","type":"quantitative","axis":null,"scale":{"domain":[0,14,15,19],"range":[1724,1724,1744,1744]}},"y":{"field":"i","type":"quantitative","axis":null,"scale":{"domain":[0,1,2,3,4,5,6,7,8,9,10,11,12,13,14,15,16,17,18,19],"range":[335.7,375,415.8,455.6,495,602,642,682.5,722,762,885,924.7,965,1004.7,1044.4,1165.5,1204.7,1245.5,1285,1324.7]}},"color":{"field":"k","type":"nominal","legend":null,"scale":{"domain":["Missense","Truncating","Inframe","Splice","SV/Fusion"],"range":["#4ed400","#708090","#a67c28","#f0b87b","#cf8fe6"]}}},
"layer":[{"transform":[{"filter":"datum.n>=10"}],"mark":{"type":"rect","width":61,"height":36,"cornerRadius":18}},{"transform":[{"filter":"datum.n<10"}],"mark":{"type":"rect","width":41,"height":36,"cornerRadius":18}},{"mark":{"type":"text","fontWeight":"bold","fontSize":21,"baseline":"middle"},"encoding":{"text":{"field":"n"},"color":{"value":"white"}}},{"mark":{"type":"text","align":"left","dx":42,"dy":-2,"fontWeight":"bold","fontSize":26},"encoding":{"text":{"field":"k"}}}]},

{"data":{"values":[{"i":0,"t":"Spearman: -0.35"},{"i":1,"t":"(p = 2.91e-28)"},{"i":2,"t":"Pearson: -0.40"},{"i":3,"t":"(p = 5.64e-37)"},{"i":4,"t":"Spearman: -0.47"},{"i":5,"t":"(p = 6.19e-52)"},{"i":6,"t":"Pearson: -0.53"},{"i":7,"t":"(p = 1.55e-70)"},{"i":8,"t":"Spearman: -0.07"},{"i":9,"t":"(p = 0.0304)"},{"i":10,"t":"Pearson: -0.14"},{"i":11,"t":"(p = 1.067e-5)"},{"i":12,"t":"Spearman: -0.08"},{"i":13,"t":"(p = 0.0104)"},{"i":14,"t":"Pearson: -0.15"},{"i":15,"t":"(p = 2.743e-6)"}]},"mark":{"type":"text","align":"left","font":"Liberation Serif","fontWeight":"bold","fontSize":14.2,"color":"#111"},"encoding":{"x":{"field":"i","type":"quantitative","axis":null,"scale":{"domain":[0,3,4,7,8,11,12,15],"range":[359,359,847.7,847.7,1323.3,1323.3,1829,1829]}},"y":{"field":"i","type":"quantitative","axis":null,"scale":{"domain":[0,1,2,3,4,5,6,7,8,9,10,11,12,13,14,15],"range":[1447.7,1462.3,1484.3,1499.3,1447.7,1462.3,1484.3,1499.3,1446.7,1461.3,1483.7,1498.3,1446.7,1461.3,1483.7,1498.3]}},"text":{"field":"t"}}},

{"layer":[
{"data":{"values":[0,0.1,0.2,0.3,0.4,0.5,0.6,0.7,0.8,0.9]},"mark":{"type":"rule","color":"#f3f3f3","strokeDash":[6,6]},"encoding":{"x":{"field":"data","type":"quantitative","scale":{"domain":[-0.069,0.972],"nice":false,"zero":false,"range":[68,470.7]},"axis":{"style":"sx","orient":"bottom","offset":-140.3,"title":"OAS1: Methylation (HM450)","values":[0,0.1,0.2,0.3,0.4,0.5,0.6,0.7,0.8,0.9],"format":"~g"}},"y":{"datum":4.78,"type":"quantitative"},"y2":{"datum":15.52}}},
{"data":{"values":[5,6,7,8,9,10,11,12,13,14,15]},"mark":{"type":"rule","color":"#f3f3f3","strokeDash":[6,6]},"encoding":{"y":{"field":"data","type":"quantitative","scale":{"domain":[4.78,15.52],"nice":false,"zero":false,"range":[1835.7,1432.7]},"axis":{"style":"sy","orient":"left","offset":-68,"title":"OAS1: mRNA expression (RNA Seq V2 RSEM) (log2(value + 1))","titleX":-32.5,"format":"d","values":[5,6,7,8,9,10,11,12,13,14,15]}},"x":{"datum":-0.069,"type":"quantitative"},"x2":{"datum":0.972}}},
{"data":{"name":"s1"},"mark":{"type":"circle","size":36,"strokeWidth":1.6,"opacity":1},"encoding":{"x":{"field":"x","type":"quantitative"},"y":{"field":"y","type":"quantitative"},"fill":{"condition":[{"test":"datum.m=='m'","value":"#55d400"},{"test":"datum.m=='s'","value":"#f0a868"},{"test":"datum.m=='t'","value":"#708090"}],"value":"#bcdcea"},"stroke":{"field":"c","type":"nominal","legend":null,"scale":{"domain":["g","p","s","r","k"],"range":["#b8b8b8","#ff8fa5","#24d3dd","#ff0000","#000000"]}}}}
]},
{"layer":[
{"data":{"values":[0,0.1,0.2,0.3,0.4,0.5,0.6,0.7,0.8,0.9]},"mark":{"type":"rule","color":"#f3f3f3","strokeDash":[6,6]},"encoding":{"x":{"field":"data","type":"quantitative","scale":{"domain":[-0.0686,0.995],"nice":false,"zero":false,"range":[557.7,960.3]},"axis":{"style":"sx","orient":"bottom","offset":-138.7,"title":"OAS2: Methylation (HM450)","values":[0,0.1,0.2,0.3,0.4,0.5,0.6,0.7,0.8,0.9],"format":"~g"}},"y":{"datum":4,"type":"quantitative"},"y2":{"datum":15.15}}},
{"data":{"values":[4,5,6,7,8,9,10,11,12,13,14,15]},"mark":{"type":"rule","color":"#f3f3f3","strokeDash":[6,6]},"encoding":{"y":{"field":"data","type":"quantitative","scale":{"domain":[4,15.15],"nice":false,"zero":false,"range":[1836.7,1434.7]},"axis":{"style":"sy","orient":"left","offset":-557.7,"title":"OAS2: mRNA expression (RNA Seq V2 RSEM) (log2(value + 1))","titleX":-33,"format":"d","values":[4,5,6,7,8,9,10,11,12,13,14,15]}},"x":{"datum":-0.0686,"type":"quantitative"},"x2":{"datum":0.995}}},
{"data":{"name":"s2"},"mark":{"type":"circle","size":36,"strokeWidth":1.6,"opacity":1},"encoding":{"x":{"field":"x","type":"quantitative"},"y":{"field":"y","type":"quantitative"},"fill":{"condition":[{"test":"datum.m=='m'","value":"#55d400"},{"test":"datum.m=='s'","value":"#f0a868"},{"test":"datum.m=='t'","value":"#708090"}],"value":"#bcdcea"},"stroke":{"field":"c","type":"nominal","legend":null,"scale":{"domain":["g","p","s","r","k"],"range":["#b8b8b8","#ff8fa5","#24d3dd","#ff0000","#000000"]}}}}
]},
{"layer":[
{"data":{"values":[0,0.02,0.04,0.06,0.08,0.1,0.12,0.14,0.16,0.18,0.2]},"mark":{"type":"rule","color":"#f3f3f3","strokeDash":[6,6]},"encoding":{"x":{"field":"data","type":"quantitative","scale":{"domain":[-0.00612,0.2123],"nice":false,"zero":false,"range":[1056.7,1460]},"axis":{"style":"sx","orient":"bottom","offset":-139.3,"title":"OAS3: Methylation (HM450)","values":[0,0.02,0.04,0.06,0.08,0.1,0.12,0.14,0.16,0.18,0.2],"format":"~g"}},"y":{"datum":4.77,"type":"quantitative"},"y2":{"datum":15.43}}},
{"data":{"values":[5,6,7,8,9,10,11,12,13,14,15]},"mark":{"type":"rule","color":"#f3f3f3","strokeDash":[6,6]},"encoding":{"y":{"field":"data","type":"quantitative","scale":{"domain":[4.77,15.43],"nice":false,"zero":false,"range":[1836.7,1434]},"axis":{"style":"sy","orient":"left","offset":-1056.7,"title":"OAS3: mRNA expression (RNA Seq V2 RSEM) (log2(value + 1))","titleX":-33,"format":"d","values":[5,6,7,8,9,10,11,12,13,14,15]}},"x":{"datum":-0.00612,"type":"quantitative"},"x2":{"datum":0.2123}}},
{"data":{"name":"s3"},"mark":{"type":"circle","size":36,"strokeWidth":1.6,"opacity":1},"encoding":{"x":{"field":"x","type":"quantitative"},"y":{"field":"y","type":"quantitative"},"fill":{"condition":[{"test":"datum.m=='m'","value":"#55d400"},{"test":"datum.m=='s'","value":"#f0a868"},{"test":"datum.m=='t'","value":"#708090"}],"value":"#bcdcea"},"stroke":{"field":"c","type":"nominal","legend":null,"scale":{"domain":["g","p","s","r","k"],"range":["#b8b8b8","#ff8fa5","#24d3dd","#ff0000","#000000"]}}}}
]},
{"layer":[
{"data":{"values":[0,0.1,0.2,0.3,0.4,0.5,0.6,0.7]},"mark":{"type":"rule","color":"#f3f3f3","strokeDash":[6,6]},"encoding":{"x":{"field":"data","type":"quantitative","scale":{"domain":[-0.0514,0.7352],"nice":false,"zero":false,"range":[1532,1934.7]},"axis":{"style":"sx","orient":"bottom","offset":-139.7,"title":"OASL: Methylation (HM450)","values":[0,0.1,0.2,0.3,0.4,0.5,0.6,0.7],"format":"~g"}},"y":{"datum":1.2,"type":"quantitative"},"y2":{"datum":14.05}}},
{"data":{"values":[2,4,6,8,10,12,14]},"mark":{"type":"rule","color":"#f3f3f3","strokeDash":[6,6]},"encoding":{"y":{"field":"data","type":"quantitative","scale":{"domain":[1.2,14.05],"nice":false,"zero":false,"range":[1836.3,1434]},"axis":{"style":"sy","orient":"left","offset":-1532,"title":"OASL: mRNA expression (RNA Seq V2 RSEM) (log2(value + 1))","titleX":-33,"format":"d","values":[2,4,6,8,10,12,14]}},"x":{"datum":-0.0514,"type":"quantitative"},"x2":{"datum":0.7352}}},
{"data":{"name":"s4"},"mark":{"type":"circle","size":36,"strokeWidth":1.6,"opacity":1},"encoding":{"x":{"field":"x","type":"quantitative"},"y":{"field":"y","type":"quantitative"},"fill":{"condition":[{"test":"datum.m=='m'","value":"#55d400"},{"test":"datum.m=='s'","value":"#f0a868"},{"test":"datum.m=='t'","value":"#708090"}],"value":"#bcdcea"},"stroke":{"field":"c","type":"nominal","legend":null,"scale":{"domain":["g","p","s","r","k"],"range":["#b8b8b8","#ff8fa5","#24d3dd","#ff0000","#000000"]}}}}
]},

{"data":{"values":[{"i":0,"k":"sp","t":"Splice (VUS)"},{"i":1,"k":"nm","t":"Not mutated"},{"i":2,"k":"am","t":"Amplification"},{"i":3,"k":"di","t":"Diploid"},{"i":4,"k":"nc","t":"Not profiled for CNA and Structural Variants"},{"i":5,"k":"np","t":"Not profiled for mutations"},{"i":6,"k":"ga","t":"Gain"},{"i":7,"k":"sh","t":"Shallow Deletion"},{"i":8,"k":"mi","t":"Missense (VUS)"}]},
"resolve":{"scale":{"color":"independent"}},
"encoding":{"x":{"field":"i","type":"quantitative","axis":null,"scale":{"domain":[0,1,2,3,4,5,6,7,8],"range":[238,469,701,937,1107,239,640,798,1109]}},"y":{"field":"i","type":"quantitative","axis":null,"scale":{"domain":[0,1,2,3,4,5,6,7,8],"range":[1908,1911,1908,1912,1909,1958,1960,1957,1957]}}},
"layer":[{"transform":[{"filter":"datum.k=='sp'||datum.k=='nm'||datum.k=='mi'"}],"mark":{"type":"circle","size":150,"opacity":1},"encoding":{"color":{"field":"k","type":"nominal","legend":null,"scale":{"domain":["sp","nm","mi"],"range":["#eab27a","#bcdff3","#55d400"]}}}},
{"transform":[{"filter":"datum.k!='sp'&&datum.k!='nm'&&datum.k!='mi'"}],"mark":{"type":"point","filled":false,"size":100,"strokeWidth":3,"opacity":1},"encoding":{"color":{"field":"k","type":"nominal","legend":null,"scale":{"domain":["am","di","nc","np","ga","sh"],"range":["#ff0000","#b8b8b8","#000000","#dddddd","#ff8fa5","#24d3dd"]}}}},
{"mark":{"type":"text","align":"left","dx":33,"dy":2,"fontSize":27.5,"color":"#222"},"encoding":{"text":{"field":"t"}}}]}
]}
